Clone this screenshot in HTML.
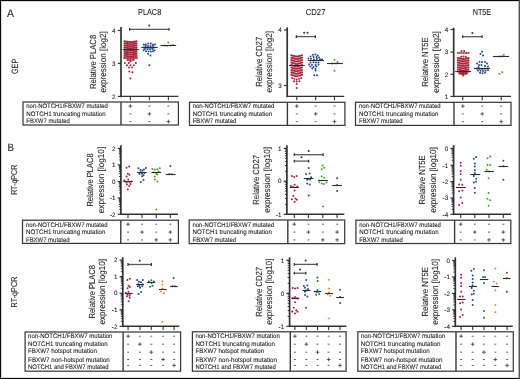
<!DOCTYPE html>
<html><head><meta charset="utf-8"><style>html,body{margin:0;padding:0;background:#fff;overflow:hidden}svg{display:block;will-change:transform}text{text-rendering:geometricPrecision}</style></head>
<body>
<svg width="520" height="379" viewBox="0 0 520 379" font-family="'Liberation Sans', sans-serif">
<rect x="0" y="0" width="520" height="379" fill="#fff"/>
<text x="7.00" y="17.00" font-size="11" fill="#231f20" text-anchor="start" stroke="#231f20" stroke-width="0.1" textLength="7.00" lengthAdjust="spacingAndGlyphs" >A</text>
<text x="17.60" y="66.40" font-size="9" fill="#231f20" text-anchor="middle" stroke="#231f20" stroke-width="0.1" textLength="15.20" lengthAdjust="spacingAndGlyphs" transform="rotate(-90 17.60 66.40)" >GEP</text>
<text x="138.10" y="14.70" font-size="8.7" fill="#231f20" text-anchor="start" stroke="#231f20" stroke-width="0.1" textLength="23.10" lengthAdjust="spacingAndGlyphs" >PLAC8</text>
<text x="305.80" y="14.70" font-size="8.7" fill="#231f20" text-anchor="start" stroke="#231f20" stroke-width="0.1" textLength="19.60" lengthAdjust="spacingAndGlyphs" >CD27</text>
<text x="472.70" y="14.70" font-size="8.7" fill="#231f20" text-anchor="start" stroke="#231f20" stroke-width="0.1" textLength="18.50" lengthAdjust="spacingAndGlyphs" >NT5E</text>
<line x1="121.00" y1="27.00" x2="121.00" y2="97.20" stroke="#333" stroke-width="1.7"/>
<line x1="120.20" y1="96.40" x2="178.30" y2="96.40" stroke="#333" stroke-width="1.4"/>
<line x1="117.80" y1="30.50" x2="121.00" y2="30.50" stroke="#333" stroke-width="1.2"/>
<text x="115.60" y="32.70" font-size="6.3" fill="#231f20" text-anchor="end" stroke="#231f20" stroke-width="0.1" >4</text>
<line x1="117.80" y1="63.40" x2="121.00" y2="63.40" stroke="#333" stroke-width="1.2"/>
<text x="115.60" y="65.60" font-size="6.3" fill="#231f20" text-anchor="end" stroke="#231f20" stroke-width="0.1" >3</text>
<line x1="117.80" y1="96.40" x2="121.00" y2="96.40" stroke="#333" stroke-width="1.2"/>
<text x="115.60" y="98.60" font-size="6.3" fill="#231f20" text-anchor="end" stroke="#231f20" stroke-width="0.1" >2</text>
<line x1="130.40" y1="96.40" x2="130.40" y2="100.20" stroke="#333" stroke-width="1.1"/>
<line x1="149.40" y1="96.40" x2="149.40" y2="100.20" stroke="#333" stroke-width="1.1"/>
<line x1="168.40" y1="96.40" x2="168.40" y2="100.20" stroke="#333" stroke-width="1.1"/>
<text x="95.60" y="61.90" font-size="8.8" fill="#231f20" text-anchor="middle" stroke="#231f20" stroke-width="0.1" textLength="54.10" lengthAdjust="spacingAndGlyphs" transform="rotate(-90 95.60 61.90)" >Relative PLAC8</text>
<text x="105.80" y="61.90" font-size="8.8" fill="#231f20" text-anchor="middle" stroke="#231f20" stroke-width="0.1" textLength="61.40" lengthAdjust="spacingAndGlyphs" transform="rotate(-90 105.80 61.90)" >expression [log2]</text>
<rect x="23.00" y="102.00" width="155.40" height="23.00" fill="none" stroke="#3a3a3a" stroke-width="1.25"/>
<line x1="121.00" y1="102.00" x2="121.00" y2="125.00" stroke="#3a3a3a" stroke-width="1.4"/>
<text x="26.30" y="108.00" font-size="6.55" fill="#231f20" text-anchor="start" stroke="#231f20" stroke-width="0.1" textLength="81.60" lengthAdjust="spacingAndGlyphs" >non-NOTCH1/FBXW7 mutated</text>
<text x="26.30" y="115.80" font-size="6.55" fill="#231f20" text-anchor="start" stroke="#231f20" stroke-width="0.1" textLength="79.40" lengthAdjust="spacingAndGlyphs" >NOTCH1 truncating mutation</text>
<text x="26.30" y="123.30" font-size="6.55" fill="#231f20" text-anchor="start" stroke="#231f20" stroke-width="0.1" textLength="43.60" lengthAdjust="spacingAndGlyphs" >FBXW7 mutated</text>
<line x1="128.50" y1="106.10" x2="132.30" y2="106.10" stroke="#222" stroke-width="0.7"/>
<line x1="130.40" y1="104.20" x2="130.40" y2="108.00" stroke="#222" stroke-width="0.7"/>
<line x1="148.40" y1="106.10" x2="150.40" y2="106.10" stroke="#444" stroke-width="0.85"/>
<line x1="167.40" y1="106.10" x2="169.40" y2="106.10" stroke="#444" stroke-width="0.85"/>
<line x1="129.40" y1="113.90" x2="131.40" y2="113.90" stroke="#444" stroke-width="0.85"/>
<line x1="147.50" y1="113.90" x2="151.30" y2="113.90" stroke="#222" stroke-width="0.7"/>
<line x1="149.40" y1="112.00" x2="149.40" y2="115.80" stroke="#222" stroke-width="0.7"/>
<line x1="167.40" y1="113.90" x2="169.40" y2="113.90" stroke="#444" stroke-width="0.85"/>
<line x1="129.40" y1="121.60" x2="131.40" y2="121.60" stroke="#444" stroke-width="0.85"/>
<line x1="148.40" y1="121.60" x2="150.40" y2="121.60" stroke="#444" stroke-width="0.85"/>
<line x1="166.50" y1="121.60" x2="170.30" y2="121.60" stroke="#222" stroke-width="0.7"/>
<line x1="168.40" y1="119.70" x2="168.40" y2="123.50" stroke="#222" stroke-width="0.7"/>
<line x1="129.60" y1="29.30" x2="169.00" y2="29.30" stroke="#5a5a5a" stroke-width="1.3"/>
<line x1="129.60" y1="27.90" x2="129.60" y2="30.70" stroke="#2a2a2a" stroke-width="1.2"/>
<line x1="169.00" y1="27.90" x2="169.00" y2="30.70" stroke="#2a2a2a" stroke-width="1.2"/>
<circle cx="149.30" cy="25.50" r="1.0" fill="#333"/>
<line x1="287.20" y1="27.40" x2="287.20" y2="97.20" stroke="#333" stroke-width="1.7"/>
<line x1="286.40" y1="96.40" x2="344.30" y2="96.40" stroke="#333" stroke-width="1.4"/>
<line x1="284.00" y1="30.00" x2="287.20" y2="30.00" stroke="#333" stroke-width="1.2"/>
<text x="281.80" y="32.20" font-size="6.3" fill="#231f20" text-anchor="end" stroke="#231f20" stroke-width="0.1" >4</text>
<line x1="284.00" y1="85.50" x2="287.20" y2="85.50" stroke="#333" stroke-width="1.2"/>
<text x="281.80" y="87.70" font-size="6.3" fill="#231f20" text-anchor="end" stroke="#231f20" stroke-width="0.1" >3</text>
<line x1="296.80" y1="96.40" x2="296.80" y2="100.20" stroke="#333" stroke-width="1.1"/>
<line x1="315.70" y1="96.40" x2="315.70" y2="100.20" stroke="#333" stroke-width="1.1"/>
<line x1="334.50" y1="96.40" x2="334.50" y2="100.20" stroke="#333" stroke-width="1.1"/>
<text x="261.90" y="61.80" font-size="8.8" fill="#231f20" text-anchor="middle" stroke="#231f20" stroke-width="0.1" textLength="50.00" lengthAdjust="spacingAndGlyphs" transform="rotate(-90 261.90 61.80)" >Relative CD27</text>
<text x="272.10" y="61.80" font-size="8.8" fill="#231f20" text-anchor="middle" stroke="#231f20" stroke-width="0.1" textLength="61.60" lengthAdjust="spacingAndGlyphs" transform="rotate(-90 272.10 61.80)" >expression [log2]</text>
<rect x="189.50" y="102.30" width="155.40" height="23.10" fill="none" stroke="#3a3a3a" stroke-width="1.25"/>
<line x1="287.40" y1="102.30" x2="287.40" y2="125.40" stroke="#3a3a3a" stroke-width="1.4"/>
<text x="192.70" y="108.00" font-size="6.55" fill="#231f20" text-anchor="start" stroke="#231f20" stroke-width="0.1" textLength="81.60" lengthAdjust="spacingAndGlyphs" >non-NOTCH1/FBXW7 mutated</text>
<text x="192.70" y="115.80" font-size="6.55" fill="#231f20" text-anchor="start" stroke="#231f20" stroke-width="0.1" textLength="79.40" lengthAdjust="spacingAndGlyphs" >NOTCH1 truncating mutation</text>
<text x="192.70" y="123.30" font-size="6.55" fill="#231f20" text-anchor="start" stroke="#231f20" stroke-width="0.1" textLength="43.60" lengthAdjust="spacingAndGlyphs" >FBXW7 mutated</text>
<line x1="294.90" y1="106.10" x2="298.70" y2="106.10" stroke="#222" stroke-width="0.7"/>
<line x1="296.80" y1="104.20" x2="296.80" y2="108.00" stroke="#222" stroke-width="0.7"/>
<line x1="314.70" y1="106.10" x2="316.70" y2="106.10" stroke="#444" stroke-width="0.85"/>
<line x1="333.50" y1="106.10" x2="335.50" y2="106.10" stroke="#444" stroke-width="0.85"/>
<line x1="295.80" y1="113.90" x2="297.80" y2="113.90" stroke="#444" stroke-width="0.85"/>
<line x1="313.80" y1="113.90" x2="317.60" y2="113.90" stroke="#222" stroke-width="0.7"/>
<line x1="315.70" y1="112.00" x2="315.70" y2="115.80" stroke="#222" stroke-width="0.7"/>
<line x1="333.50" y1="113.90" x2="335.50" y2="113.90" stroke="#444" stroke-width="0.85"/>
<line x1="295.80" y1="121.60" x2="297.80" y2="121.60" stroke="#444" stroke-width="0.85"/>
<line x1="314.70" y1="121.60" x2="316.70" y2="121.60" stroke="#444" stroke-width="0.85"/>
<line x1="332.60" y1="121.60" x2="336.40" y2="121.60" stroke="#222" stroke-width="0.7"/>
<line x1="334.50" y1="119.70" x2="334.50" y2="123.50" stroke="#222" stroke-width="0.7"/>
<line x1="296.30" y1="36.60" x2="315.40" y2="36.60" stroke="#5a5a5a" stroke-width="1.3"/>
<line x1="296.30" y1="35.20" x2="296.30" y2="38.00" stroke="#2a2a2a" stroke-width="1.2"/>
<line x1="315.40" y1="35.20" x2="315.40" y2="38.00" stroke="#2a2a2a" stroke-width="1.2"/>
<circle cx="304.20" cy="32.80" r="1.0" fill="#333"/>
<circle cx="307.50" cy="32.80" r="1.0" fill="#333"/>
<line x1="453.70" y1="27.80" x2="453.70" y2="97.20" stroke="#333" stroke-width="1.7"/>
<line x1="452.90" y1="96.40" x2="511.00" y2="96.40" stroke="#333" stroke-width="1.4"/>
<line x1="450.50" y1="29.50" x2="453.70" y2="29.50" stroke="#333" stroke-width="1.2"/>
<text x="448.30" y="31.70" font-size="6.3" fill="#231f20" text-anchor="end" stroke="#231f20" stroke-width="0.1" >4</text>
<line x1="450.50" y1="52.10" x2="453.70" y2="52.10" stroke="#333" stroke-width="1.2"/>
<text x="448.30" y="54.30" font-size="6.3" fill="#231f20" text-anchor="end" stroke="#231f20" stroke-width="0.1" >3</text>
<line x1="450.50" y1="74.30" x2="453.70" y2="74.30" stroke="#333" stroke-width="1.2"/>
<text x="448.30" y="76.50" font-size="6.3" fill="#231f20" text-anchor="end" stroke="#231f20" stroke-width="0.1" >2</text>
<line x1="450.50" y1="96.40" x2="453.70" y2="96.40" stroke="#333" stroke-width="1.2"/>
<text x="448.30" y="98.60" font-size="6.3" fill="#231f20" text-anchor="end" stroke="#231f20" stroke-width="0.1" >1</text>
<line x1="462.80" y1="96.40" x2="462.80" y2="100.20" stroke="#333" stroke-width="1.1"/>
<line x1="482.20" y1="96.40" x2="482.20" y2="100.20" stroke="#333" stroke-width="1.1"/>
<line x1="501.20" y1="96.40" x2="501.20" y2="100.20" stroke="#333" stroke-width="1.1"/>
<text x="427.90" y="62.00" font-size="8.8" fill="#231f20" text-anchor="middle" stroke="#231f20" stroke-width="0.1" textLength="49.40" lengthAdjust="spacingAndGlyphs" transform="rotate(-90 427.90 62.00)" >Relative NT5E</text>
<text x="438.50" y="62.00" font-size="8.8" fill="#231f20" text-anchor="middle" stroke="#231f20" stroke-width="0.1" textLength="61.70" lengthAdjust="spacingAndGlyphs" transform="rotate(-90 438.50 62.00)" >expression [log2]</text>
<rect x="355.50" y="102.30" width="155.50" height="23.10" fill="none" stroke="#3a3a3a" stroke-width="1.25"/>
<line x1="454.00" y1="102.30" x2="454.00" y2="125.40" stroke="#3a3a3a" stroke-width="1.4"/>
<text x="359.00" y="108.00" font-size="6.55" fill="#231f20" text-anchor="start" stroke="#231f20" stroke-width="0.1" textLength="81.60" lengthAdjust="spacingAndGlyphs" >non-NOTCH1/FBXW7 mutated</text>
<text x="359.00" y="115.80" font-size="6.55" fill="#231f20" text-anchor="start" stroke="#231f20" stroke-width="0.1" textLength="79.40" lengthAdjust="spacingAndGlyphs" >NOTCH1 truncating mutation</text>
<text x="359.00" y="123.30" font-size="6.55" fill="#231f20" text-anchor="start" stroke="#231f20" stroke-width="0.1" textLength="43.60" lengthAdjust="spacingAndGlyphs" >FBXW7 mutated</text>
<line x1="460.90" y1="106.10" x2="464.70" y2="106.10" stroke="#222" stroke-width="0.7"/>
<line x1="462.80" y1="104.20" x2="462.80" y2="108.00" stroke="#222" stroke-width="0.7"/>
<line x1="481.20" y1="106.10" x2="483.20" y2="106.10" stroke="#444" stroke-width="0.85"/>
<line x1="500.20" y1="106.10" x2="502.20" y2="106.10" stroke="#444" stroke-width="0.85"/>
<line x1="461.80" y1="113.90" x2="463.80" y2="113.90" stroke="#444" stroke-width="0.85"/>
<line x1="480.30" y1="113.90" x2="484.10" y2="113.90" stroke="#222" stroke-width="0.7"/>
<line x1="482.20" y1="112.00" x2="482.20" y2="115.80" stroke="#222" stroke-width="0.7"/>
<line x1="500.20" y1="113.90" x2="502.20" y2="113.90" stroke="#444" stroke-width="0.85"/>
<line x1="461.80" y1="121.60" x2="463.80" y2="121.60" stroke="#444" stroke-width="0.85"/>
<line x1="481.20" y1="121.60" x2="483.20" y2="121.60" stroke="#444" stroke-width="0.85"/>
<line x1="499.30" y1="121.60" x2="503.10" y2="121.60" stroke="#222" stroke-width="0.7"/>
<line x1="501.20" y1="119.70" x2="501.20" y2="123.50" stroke="#222" stroke-width="0.7"/>
<line x1="462.70" y1="36.70" x2="482.10" y2="36.70" stroke="#5a5a5a" stroke-width="1.3"/>
<line x1="462.70" y1="35.30" x2="462.70" y2="38.10" stroke="#2a2a2a" stroke-width="1.2"/>
<line x1="482.10" y1="35.30" x2="482.10" y2="38.10" stroke="#2a2a2a" stroke-width="1.2"/>
<circle cx="472.40" cy="32.90" r="1.0" fill="#333"/>
<text x="7.50" y="151.00" font-size="10.5" fill="#231f20" text-anchor="start" stroke="#231f20" stroke-width="0.1" textLength="6.50" lengthAdjust="spacingAndGlyphs" >B</text>
<text x="17.40" y="179.80" font-size="8.5" fill="#231f20" text-anchor="middle" stroke="#231f20" stroke-width="0.1" textLength="30.10" lengthAdjust="spacingAndGlyphs" transform="rotate(-90 17.40 179.80)" >RT-qPCR</text>
<text x="17.40" y="292.00" font-size="8.5" fill="#231f20" text-anchor="middle" stroke="#231f20" stroke-width="0.1" textLength="30.90" lengthAdjust="spacingAndGlyphs" transform="rotate(-90 17.40 292.00)" >RT-qPCR</text>
<line x1="120.90" y1="145.20" x2="120.90" y2="215.10" stroke="#333" stroke-width="1.7"/>
<line x1="120.10" y1="214.30" x2="178.00" y2="214.30" stroke="#333" stroke-width="1.4"/>
<line x1="117.70" y1="148.40" x2="120.90" y2="148.40" stroke="#333" stroke-width="1.2"/>
<text x="115.50" y="150.60" font-size="6.3" fill="#231f20" text-anchor="end" stroke="#231f20" stroke-width="0.1" >2</text>
<line x1="117.70" y1="164.90" x2="120.90" y2="164.90" stroke="#333" stroke-width="1.2"/>
<text x="115.50" y="167.10" font-size="6.3" fill="#231f20" text-anchor="end" stroke="#231f20" stroke-width="0.1" >1</text>
<line x1="117.70" y1="181.60" x2="120.90" y2="181.60" stroke="#333" stroke-width="1.2"/>
<text x="115.50" y="183.80" font-size="6.3" fill="#231f20" text-anchor="end" stroke="#231f20" stroke-width="0.1" >0</text>
<line x1="117.70" y1="198.00" x2="120.90" y2="198.00" stroke="#333" stroke-width="1.2"/>
<text x="115.50" y="200.20" font-size="6.3" fill="#231f20" text-anchor="end" stroke="#231f20" stroke-width="0.1" >-1</text>
<line x1="117.70" y1="214.30" x2="120.90" y2="214.30" stroke="#333" stroke-width="1.2"/>
<text x="115.50" y="216.50" font-size="6.3" fill="#231f20" text-anchor="end" stroke="#231f20" stroke-width="0.1" >-2</text>
<line x1="118.90" y1="159.93" x2="120.90" y2="159.93" stroke="#222" stroke-width="0.85"/>
<line x1="118.90" y1="157.03" x2="120.90" y2="157.03" stroke="#222" stroke-width="0.85"/>
<line x1="118.90" y1="154.97" x2="120.90" y2="154.97" stroke="#222" stroke-width="0.85"/>
<line x1="118.90" y1="153.37" x2="120.90" y2="153.37" stroke="#222" stroke-width="0.85"/>
<line x1="118.90" y1="152.06" x2="120.90" y2="152.06" stroke="#222" stroke-width="0.85"/>
<line x1="118.90" y1="150.96" x2="120.90" y2="150.96" stroke="#222" stroke-width="0.85"/>
<line x1="118.90" y1="150.00" x2="120.90" y2="150.00" stroke="#222" stroke-width="0.85"/>
<line x1="118.90" y1="149.15" x2="120.90" y2="149.15" stroke="#222" stroke-width="0.85"/>
<line x1="118.90" y1="176.57" x2="120.90" y2="176.57" stroke="#222" stroke-width="0.85"/>
<line x1="118.90" y1="173.63" x2="120.90" y2="173.63" stroke="#222" stroke-width="0.85"/>
<line x1="118.90" y1="171.55" x2="120.90" y2="171.55" stroke="#222" stroke-width="0.85"/>
<line x1="118.90" y1="169.93" x2="120.90" y2="169.93" stroke="#222" stroke-width="0.85"/>
<line x1="118.90" y1="168.60" x2="120.90" y2="168.60" stroke="#222" stroke-width="0.85"/>
<line x1="118.90" y1="167.49" x2="120.90" y2="167.49" stroke="#222" stroke-width="0.85"/>
<line x1="118.90" y1="166.52" x2="120.90" y2="166.52" stroke="#222" stroke-width="0.85"/>
<line x1="118.90" y1="165.66" x2="120.90" y2="165.66" stroke="#222" stroke-width="0.85"/>
<line x1="118.90" y1="193.06" x2="120.90" y2="193.06" stroke="#222" stroke-width="0.85"/>
<line x1="118.90" y1="190.18" x2="120.90" y2="190.18" stroke="#222" stroke-width="0.85"/>
<line x1="118.90" y1="188.13" x2="120.90" y2="188.13" stroke="#222" stroke-width="0.85"/>
<line x1="118.90" y1="186.54" x2="120.90" y2="186.54" stroke="#222" stroke-width="0.85"/>
<line x1="118.90" y1="185.24" x2="120.90" y2="185.24" stroke="#222" stroke-width="0.85"/>
<line x1="118.90" y1="184.14" x2="120.90" y2="184.14" stroke="#222" stroke-width="0.85"/>
<line x1="118.90" y1="183.19" x2="120.90" y2="183.19" stroke="#222" stroke-width="0.85"/>
<line x1="118.90" y1="182.35" x2="120.90" y2="182.35" stroke="#222" stroke-width="0.85"/>
<line x1="118.90" y1="209.39" x2="120.90" y2="209.39" stroke="#222" stroke-width="0.85"/>
<line x1="118.90" y1="206.52" x2="120.90" y2="206.52" stroke="#222" stroke-width="0.85"/>
<line x1="118.90" y1="204.49" x2="120.90" y2="204.49" stroke="#222" stroke-width="0.85"/>
<line x1="118.90" y1="202.91" x2="120.90" y2="202.91" stroke="#222" stroke-width="0.85"/>
<line x1="118.90" y1="201.62" x2="120.90" y2="201.62" stroke="#222" stroke-width="0.85"/>
<line x1="118.90" y1="200.52" x2="120.90" y2="200.52" stroke="#222" stroke-width="0.85"/>
<line x1="118.90" y1="199.58" x2="120.90" y2="199.58" stroke="#222" stroke-width="0.85"/>
<line x1="118.90" y1="198.75" x2="120.90" y2="198.75" stroke="#222" stroke-width="0.85"/>
<line x1="128.00" y1="214.30" x2="128.00" y2="218.10" stroke="#333" stroke-width="1.1"/>
<line x1="142.00" y1="214.30" x2="142.00" y2="218.10" stroke="#333" stroke-width="1.1"/>
<line x1="156.20" y1="214.30" x2="156.20" y2="218.10" stroke="#333" stroke-width="1.1"/>
<line x1="170.30" y1="214.30" x2="170.30" y2="218.10" stroke="#333" stroke-width="1.1"/>
<text x="93.10" y="180.00" font-size="8.8" fill="#231f20" text-anchor="middle" stroke="#231f20" stroke-width="0.1" textLength="53.20" lengthAdjust="spacingAndGlyphs" transform="rotate(-90 93.10 180.00)" >Relative PLAC8</text>
<text x="104.20" y="180.00" font-size="8.8" fill="#231f20" text-anchor="middle" stroke="#231f20" stroke-width="0.1" textLength="66.40" lengthAdjust="spacingAndGlyphs" transform="rotate(-90 104.20 180.00)" >expression [log10]</text>
<rect x="22.50" y="220.20" width="155.90" height="23.20" fill="none" stroke="#3a3a3a" stroke-width="1.25"/>
<line x1="120.80" y1="220.20" x2="120.80" y2="243.40" stroke="#3a3a3a" stroke-width="1.4"/>
<text x="26.00" y="226.50" font-size="6.55" fill="#231f20" text-anchor="start" stroke="#231f20" stroke-width="0.1" textLength="81.60" lengthAdjust="spacingAndGlyphs" >non-NOTCH1/FBXW7 mutated</text>
<text x="26.00" y="234.20" font-size="6.55" fill="#231f20" text-anchor="start" stroke="#231f20" stroke-width="0.1" textLength="79.40" lengthAdjust="spacingAndGlyphs" >NOTCH1 truncating mutation</text>
<text x="26.00" y="241.90" font-size="6.55" fill="#231f20" text-anchor="start" stroke="#231f20" stroke-width="0.1" textLength="43.60" lengthAdjust="spacingAndGlyphs" >FBXW7 mutated</text>
<line x1="126.10" y1="224.20" x2="129.90" y2="224.20" stroke="#222" stroke-width="0.7"/>
<line x1="128.00" y1="222.30" x2="128.00" y2="226.10" stroke="#222" stroke-width="0.7"/>
<line x1="141.00" y1="224.20" x2="143.00" y2="224.20" stroke="#444" stroke-width="0.85"/>
<line x1="155.20" y1="224.20" x2="157.20" y2="224.20" stroke="#444" stroke-width="0.85"/>
<line x1="169.30" y1="224.20" x2="171.30" y2="224.20" stroke="#444" stroke-width="0.85"/>
<line x1="127.00" y1="232.10" x2="129.00" y2="232.10" stroke="#444" stroke-width="0.85"/>
<line x1="140.10" y1="232.10" x2="143.90" y2="232.10" stroke="#222" stroke-width="0.7"/>
<line x1="142.00" y1="230.20" x2="142.00" y2="234.00" stroke="#222" stroke-width="0.7"/>
<line x1="155.20" y1="232.10" x2="157.20" y2="232.10" stroke="#444" stroke-width="0.85"/>
<line x1="168.40" y1="232.10" x2="172.20" y2="232.10" stroke="#222" stroke-width="0.7"/>
<line x1="170.30" y1="230.20" x2="170.30" y2="234.00" stroke="#222" stroke-width="0.7"/>
<line x1="127.00" y1="239.90" x2="129.00" y2="239.90" stroke="#444" stroke-width="0.85"/>
<line x1="141.00" y1="239.90" x2="143.00" y2="239.90" stroke="#444" stroke-width="0.85"/>
<line x1="154.30" y1="239.90" x2="158.10" y2="239.90" stroke="#222" stroke-width="0.7"/>
<line x1="156.20" y1="238.00" x2="156.20" y2="241.80" stroke="#222" stroke-width="0.7"/>
<line x1="168.40" y1="239.90" x2="172.20" y2="239.90" stroke="#222" stroke-width="0.7"/>
<line x1="170.30" y1="238.00" x2="170.30" y2="241.80" stroke="#222" stroke-width="0.7"/>
<line x1="286.90" y1="145.20" x2="286.90" y2="215.10" stroke="#333" stroke-width="1.7"/>
<line x1="286.10" y1="214.30" x2="344.30" y2="214.30" stroke="#333" stroke-width="1.4"/>
<line x1="283.70" y1="148.40" x2="286.90" y2="148.40" stroke="#333" stroke-width="1.2"/>
<text x="281.50" y="150.60" font-size="6.3" fill="#231f20" text-anchor="end" stroke="#231f20" stroke-width="0.1" >1</text>
<line x1="283.70" y1="181.20" x2="286.90" y2="181.20" stroke="#333" stroke-width="1.2"/>
<text x="281.50" y="183.40" font-size="6.3" fill="#231f20" text-anchor="end" stroke="#231f20" stroke-width="0.1" >0</text>
<line x1="283.70" y1="214.30" x2="286.90" y2="214.30" stroke="#333" stroke-width="1.2"/>
<text x="281.50" y="216.50" font-size="6.3" fill="#231f20" text-anchor="end" stroke="#231f20" stroke-width="0.1" >-1</text>
<line x1="284.90" y1="171.33" x2="286.90" y2="171.33" stroke="#222" stroke-width="0.85"/>
<line x1="284.90" y1="165.55" x2="286.90" y2="165.55" stroke="#222" stroke-width="0.85"/>
<line x1="284.90" y1="161.45" x2="286.90" y2="161.45" stroke="#222" stroke-width="0.85"/>
<line x1="284.90" y1="158.27" x2="286.90" y2="158.27" stroke="#222" stroke-width="0.85"/>
<line x1="284.90" y1="155.68" x2="286.90" y2="155.68" stroke="#222" stroke-width="0.85"/>
<line x1="284.90" y1="153.48" x2="286.90" y2="153.48" stroke="#222" stroke-width="0.85"/>
<line x1="284.90" y1="151.58" x2="286.90" y2="151.58" stroke="#222" stroke-width="0.85"/>
<line x1="284.90" y1="149.90" x2="286.90" y2="149.90" stroke="#222" stroke-width="0.85"/>
<line x1="284.90" y1="204.34" x2="286.90" y2="204.34" stroke="#222" stroke-width="0.85"/>
<line x1="284.90" y1="198.51" x2="286.90" y2="198.51" stroke="#222" stroke-width="0.85"/>
<line x1="284.90" y1="194.37" x2="286.90" y2="194.37" stroke="#222" stroke-width="0.85"/>
<line x1="284.90" y1="191.16" x2="286.90" y2="191.16" stroke="#222" stroke-width="0.85"/>
<line x1="284.90" y1="188.54" x2="286.90" y2="188.54" stroke="#222" stroke-width="0.85"/>
<line x1="284.90" y1="186.33" x2="286.90" y2="186.33" stroke="#222" stroke-width="0.85"/>
<line x1="284.90" y1="184.41" x2="286.90" y2="184.41" stroke="#222" stroke-width="0.85"/>
<line x1="284.90" y1="182.71" x2="286.90" y2="182.71" stroke="#222" stroke-width="0.85"/>
<line x1="294.30" y1="214.30" x2="294.30" y2="218.10" stroke="#333" stroke-width="1.1"/>
<line x1="308.40" y1="214.30" x2="308.40" y2="218.10" stroke="#333" stroke-width="1.1"/>
<line x1="322.80" y1="214.30" x2="322.80" y2="218.10" stroke="#333" stroke-width="1.1"/>
<line x1="337.10" y1="214.30" x2="337.10" y2="218.10" stroke="#333" stroke-width="1.1"/>
<text x="259.30" y="179.80" font-size="8.8" fill="#231f20" text-anchor="middle" stroke="#231f20" stroke-width="0.1" textLength="49.80" lengthAdjust="spacingAndGlyphs" transform="rotate(-90 259.30 179.80)" >Relative CD27</text>
<text x="269.80" y="179.80" font-size="8.8" fill="#231f20" text-anchor="middle" stroke="#231f20" stroke-width="0.1" textLength="65.70" lengthAdjust="spacingAndGlyphs" transform="rotate(-90 269.80 179.80)" >expression [log10]</text>
<rect x="189.20" y="220.00" width="155.50" height="23.60" fill="none" stroke="#3a3a3a" stroke-width="1.25"/>
<line x1="287.80" y1="220.00" x2="287.80" y2="243.60" stroke="#3a3a3a" stroke-width="1.4"/>
<text x="192.50" y="226.50" font-size="6.55" fill="#231f20" text-anchor="start" stroke="#231f20" stroke-width="0.1" textLength="81.60" lengthAdjust="spacingAndGlyphs" >non-NOTCH1/FBXW7 mutated</text>
<text x="192.50" y="234.20" font-size="6.55" fill="#231f20" text-anchor="start" stroke="#231f20" stroke-width="0.1" textLength="79.40" lengthAdjust="spacingAndGlyphs" >NOTCH1 truncating mutation</text>
<text x="192.50" y="241.90" font-size="6.55" fill="#231f20" text-anchor="start" stroke="#231f20" stroke-width="0.1" textLength="43.60" lengthAdjust="spacingAndGlyphs" >FBXW7 mutated</text>
<line x1="292.40" y1="224.20" x2="296.20" y2="224.20" stroke="#222" stroke-width="0.7"/>
<line x1="294.30" y1="222.30" x2="294.30" y2="226.10" stroke="#222" stroke-width="0.7"/>
<line x1="307.40" y1="224.20" x2="309.40" y2="224.20" stroke="#444" stroke-width="0.85"/>
<line x1="321.80" y1="224.20" x2="323.80" y2="224.20" stroke="#444" stroke-width="0.85"/>
<line x1="336.10" y1="224.20" x2="338.10" y2="224.20" stroke="#444" stroke-width="0.85"/>
<line x1="293.30" y1="232.10" x2="295.30" y2="232.10" stroke="#444" stroke-width="0.85"/>
<line x1="306.50" y1="232.10" x2="310.30" y2="232.10" stroke="#222" stroke-width="0.7"/>
<line x1="308.40" y1="230.20" x2="308.40" y2="234.00" stroke="#222" stroke-width="0.7"/>
<line x1="321.80" y1="232.10" x2="323.80" y2="232.10" stroke="#444" stroke-width="0.85"/>
<line x1="335.20" y1="232.10" x2="339.00" y2="232.10" stroke="#222" stroke-width="0.7"/>
<line x1="337.10" y1="230.20" x2="337.10" y2="234.00" stroke="#222" stroke-width="0.7"/>
<line x1="293.30" y1="239.90" x2="295.30" y2="239.90" stroke="#444" stroke-width="0.85"/>
<line x1="307.40" y1="239.90" x2="309.40" y2="239.90" stroke="#444" stroke-width="0.85"/>
<line x1="320.90" y1="239.90" x2="324.70" y2="239.90" stroke="#222" stroke-width="0.7"/>
<line x1="322.80" y1="238.00" x2="322.80" y2="241.80" stroke="#222" stroke-width="0.7"/>
<line x1="335.20" y1="239.90" x2="339.00" y2="239.90" stroke="#222" stroke-width="0.7"/>
<line x1="337.10" y1="238.00" x2="337.10" y2="241.80" stroke="#222" stroke-width="0.7"/>
<line x1="294.30" y1="154.70" x2="323.10" y2="154.70" stroke="#5a5a5a" stroke-width="1.3"/>
<line x1="294.30" y1="153.30" x2="294.30" y2="156.10" stroke="#2a2a2a" stroke-width="1.2"/>
<line x1="323.10" y1="153.30" x2="323.10" y2="156.10" stroke="#2a2a2a" stroke-width="1.2"/>
<circle cx="308.70" cy="150.90" r="1.0" fill="#333"/>
<line x1="294.30" y1="161.10" x2="308.60" y2="161.10" stroke="#5a5a5a" stroke-width="1.3"/>
<line x1="294.30" y1="159.70" x2="294.30" y2="162.50" stroke="#2a2a2a" stroke-width="1.2"/>
<line x1="308.60" y1="159.70" x2="308.60" y2="162.50" stroke="#2a2a2a" stroke-width="1.2"/>
<circle cx="301.45" cy="157.30" r="1.0" fill="#333"/>
<line x1="453.60" y1="145.20" x2="453.60" y2="215.10" stroke="#333" stroke-width="1.7"/>
<line x1="452.80" y1="214.30" x2="511.00" y2="214.30" stroke="#333" stroke-width="1.4"/>
<line x1="450.40" y1="148.40" x2="453.60" y2="148.40" stroke="#333" stroke-width="1.2"/>
<text x="448.20" y="150.60" font-size="6.3" fill="#231f20" text-anchor="end" stroke="#231f20" stroke-width="0.1" >0</text>
<line x1="450.40" y1="165.30" x2="453.60" y2="165.30" stroke="#333" stroke-width="1.2"/>
<text x="448.20" y="167.50" font-size="6.3" fill="#231f20" text-anchor="end" stroke="#231f20" stroke-width="0.1" >-1</text>
<line x1="450.40" y1="181.60" x2="453.60" y2="181.60" stroke="#333" stroke-width="1.2"/>
<text x="448.20" y="183.80" font-size="6.3" fill="#231f20" text-anchor="end" stroke="#231f20" stroke-width="0.1" >-2</text>
<line x1="450.40" y1="198.00" x2="453.60" y2="198.00" stroke="#333" stroke-width="1.2"/>
<text x="448.20" y="200.20" font-size="6.3" fill="#231f20" text-anchor="end" stroke="#231f20" stroke-width="0.1" >-3</text>
<line x1="450.40" y1="214.30" x2="453.60" y2="214.30" stroke="#333" stroke-width="1.2"/>
<text x="448.20" y="216.50" font-size="6.3" fill="#231f20" text-anchor="end" stroke="#231f20" stroke-width="0.1" >-4</text>
<line x1="451.60" y1="160.21" x2="453.60" y2="160.21" stroke="#222" stroke-width="0.85"/>
<line x1="451.60" y1="157.24" x2="453.60" y2="157.24" stroke="#222" stroke-width="0.85"/>
<line x1="451.60" y1="155.13" x2="453.60" y2="155.13" stroke="#222" stroke-width="0.85"/>
<line x1="451.60" y1="153.49" x2="453.60" y2="153.49" stroke="#222" stroke-width="0.85"/>
<line x1="451.60" y1="152.15" x2="453.60" y2="152.15" stroke="#222" stroke-width="0.85"/>
<line x1="451.60" y1="151.02" x2="453.60" y2="151.02" stroke="#222" stroke-width="0.85"/>
<line x1="451.60" y1="150.04" x2="453.60" y2="150.04" stroke="#222" stroke-width="0.85"/>
<line x1="451.60" y1="149.17" x2="453.60" y2="149.17" stroke="#222" stroke-width="0.85"/>
<line x1="451.60" y1="176.69" x2="453.60" y2="176.69" stroke="#222" stroke-width="0.85"/>
<line x1="451.60" y1="173.82" x2="453.60" y2="173.82" stroke="#222" stroke-width="0.85"/>
<line x1="451.60" y1="171.79" x2="453.60" y2="171.79" stroke="#222" stroke-width="0.85"/>
<line x1="451.60" y1="170.21" x2="453.60" y2="170.21" stroke="#222" stroke-width="0.85"/>
<line x1="451.60" y1="168.92" x2="453.60" y2="168.92" stroke="#222" stroke-width="0.85"/>
<line x1="451.60" y1="167.82" x2="453.60" y2="167.82" stroke="#222" stroke-width="0.85"/>
<line x1="451.60" y1="166.88" x2="453.60" y2="166.88" stroke="#222" stroke-width="0.85"/>
<line x1="451.60" y1="166.05" x2="453.60" y2="166.05" stroke="#222" stroke-width="0.85"/>
<line x1="451.60" y1="193.06" x2="453.60" y2="193.06" stroke="#222" stroke-width="0.85"/>
<line x1="451.60" y1="190.18" x2="453.60" y2="190.18" stroke="#222" stroke-width="0.85"/>
<line x1="451.60" y1="188.13" x2="453.60" y2="188.13" stroke="#222" stroke-width="0.85"/>
<line x1="451.60" y1="186.54" x2="453.60" y2="186.54" stroke="#222" stroke-width="0.85"/>
<line x1="451.60" y1="185.24" x2="453.60" y2="185.24" stroke="#222" stroke-width="0.85"/>
<line x1="451.60" y1="184.14" x2="453.60" y2="184.14" stroke="#222" stroke-width="0.85"/>
<line x1="451.60" y1="183.19" x2="453.60" y2="183.19" stroke="#222" stroke-width="0.85"/>
<line x1="451.60" y1="182.35" x2="453.60" y2="182.35" stroke="#222" stroke-width="0.85"/>
<line x1="451.60" y1="209.39" x2="453.60" y2="209.39" stroke="#222" stroke-width="0.85"/>
<line x1="451.60" y1="206.52" x2="453.60" y2="206.52" stroke="#222" stroke-width="0.85"/>
<line x1="451.60" y1="204.49" x2="453.60" y2="204.49" stroke="#222" stroke-width="0.85"/>
<line x1="451.60" y1="202.91" x2="453.60" y2="202.91" stroke="#222" stroke-width="0.85"/>
<line x1="451.60" y1="201.62" x2="453.60" y2="201.62" stroke="#222" stroke-width="0.85"/>
<line x1="451.60" y1="200.52" x2="453.60" y2="200.52" stroke="#222" stroke-width="0.85"/>
<line x1="451.60" y1="199.58" x2="453.60" y2="199.58" stroke="#222" stroke-width="0.85"/>
<line x1="451.60" y1="198.75" x2="453.60" y2="198.75" stroke="#222" stroke-width="0.85"/>
<line x1="460.70" y1="214.30" x2="460.70" y2="218.10" stroke="#333" stroke-width="1.1"/>
<line x1="474.80" y1="214.30" x2="474.80" y2="218.10" stroke="#333" stroke-width="1.1"/>
<line x1="489.00" y1="214.30" x2="489.00" y2="218.10" stroke="#333" stroke-width="1.1"/>
<line x1="503.30" y1="214.30" x2="503.30" y2="218.10" stroke="#333" stroke-width="1.1"/>
<text x="425.30" y="179.90" font-size="8.8" fill="#231f20" text-anchor="middle" stroke="#231f20" stroke-width="0.1" textLength="49.00" lengthAdjust="spacingAndGlyphs" transform="rotate(-90 425.30 179.90)" >Relative NT5E</text>
<text x="436.30" y="179.90" font-size="8.8" fill="#231f20" text-anchor="middle" stroke="#231f20" stroke-width="0.1" textLength="65.50" lengthAdjust="spacingAndGlyphs" transform="rotate(-90 436.30 179.90)" >expression [log10]</text>
<rect x="355.90" y="220.20" width="154.90" height="23.30" fill="none" stroke="#3a3a3a" stroke-width="1.25"/>
<line x1="454.60" y1="220.20" x2="454.60" y2="243.50" stroke="#3a3a3a" stroke-width="1.4"/>
<text x="359.20" y="226.50" font-size="6.55" fill="#231f20" text-anchor="start" stroke="#231f20" stroke-width="0.1" textLength="81.60" lengthAdjust="spacingAndGlyphs" >non-NOTCH1/FBXW7 mutated</text>
<text x="359.20" y="234.20" font-size="6.55" fill="#231f20" text-anchor="start" stroke="#231f20" stroke-width="0.1" textLength="79.40" lengthAdjust="spacingAndGlyphs" >NOTCH1 truncating mutation</text>
<text x="359.20" y="241.90" font-size="6.55" fill="#231f20" text-anchor="start" stroke="#231f20" stroke-width="0.1" textLength="43.60" lengthAdjust="spacingAndGlyphs" >FBXW7 mutated</text>
<line x1="458.80" y1="224.20" x2="462.60" y2="224.20" stroke="#222" stroke-width="0.7"/>
<line x1="460.70" y1="222.30" x2="460.70" y2="226.10" stroke="#222" stroke-width="0.7"/>
<line x1="473.80" y1="224.20" x2="475.80" y2="224.20" stroke="#444" stroke-width="0.85"/>
<line x1="488.00" y1="224.20" x2="490.00" y2="224.20" stroke="#444" stroke-width="0.85"/>
<line x1="502.30" y1="224.20" x2="504.30" y2="224.20" stroke="#444" stroke-width="0.85"/>
<line x1="459.70" y1="232.10" x2="461.70" y2="232.10" stroke="#444" stroke-width="0.85"/>
<line x1="472.90" y1="232.10" x2="476.70" y2="232.10" stroke="#222" stroke-width="0.7"/>
<line x1="474.80" y1="230.20" x2="474.80" y2="234.00" stroke="#222" stroke-width="0.7"/>
<line x1="488.00" y1="232.10" x2="490.00" y2="232.10" stroke="#444" stroke-width="0.85"/>
<line x1="501.40" y1="232.10" x2="505.20" y2="232.10" stroke="#222" stroke-width="0.7"/>
<line x1="503.30" y1="230.20" x2="503.30" y2="234.00" stroke="#222" stroke-width="0.7"/>
<line x1="459.70" y1="239.90" x2="461.70" y2="239.90" stroke="#444" stroke-width="0.85"/>
<line x1="473.80" y1="239.90" x2="475.80" y2="239.90" stroke="#444" stroke-width="0.85"/>
<line x1="487.10" y1="239.90" x2="490.90" y2="239.90" stroke="#222" stroke-width="0.7"/>
<line x1="489.00" y1="238.00" x2="489.00" y2="241.80" stroke="#222" stroke-width="0.7"/>
<line x1="501.40" y1="239.90" x2="505.20" y2="239.90" stroke="#222" stroke-width="0.7"/>
<line x1="503.30" y1="238.00" x2="503.30" y2="241.80" stroke="#222" stroke-width="0.7"/>
<line x1="122.80" y1="257.30" x2="122.80" y2="327.10" stroke="#333" stroke-width="1.7"/>
<line x1="122.00" y1="326.30" x2="179.30" y2="326.30" stroke="#333" stroke-width="1.4"/>
<line x1="119.60" y1="260.10" x2="122.80" y2="260.10" stroke="#333" stroke-width="1.2"/>
<text x="117.40" y="262.30" font-size="6.3" fill="#231f20" text-anchor="end" stroke="#231f20" stroke-width="0.1" >2</text>
<line x1="119.60" y1="276.65" x2="122.80" y2="276.65" stroke="#333" stroke-width="1.2"/>
<text x="117.40" y="278.85" font-size="6.3" fill="#231f20" text-anchor="end" stroke="#231f20" stroke-width="0.1" >1</text>
<line x1="119.60" y1="293.20" x2="122.80" y2="293.20" stroke="#333" stroke-width="1.2"/>
<text x="117.40" y="295.40" font-size="6.3" fill="#231f20" text-anchor="end" stroke="#231f20" stroke-width="0.1" >0</text>
<line x1="119.60" y1="309.75" x2="122.80" y2="309.75" stroke="#333" stroke-width="1.2"/>
<text x="117.40" y="311.95" font-size="6.3" fill="#231f20" text-anchor="end" stroke="#231f20" stroke-width="0.1" >-1</text>
<line x1="119.60" y1="326.30" x2="122.80" y2="326.30" stroke="#333" stroke-width="1.2"/>
<text x="117.40" y="328.50" font-size="6.3" fill="#231f20" text-anchor="end" stroke="#231f20" stroke-width="0.1" >-2</text>
<line x1="120.80" y1="271.67" x2="122.80" y2="271.67" stroke="#222" stroke-width="0.85"/>
<line x1="120.80" y1="268.75" x2="122.80" y2="268.75" stroke="#222" stroke-width="0.85"/>
<line x1="120.80" y1="266.69" x2="122.80" y2="266.69" stroke="#222" stroke-width="0.85"/>
<line x1="120.80" y1="265.08" x2="122.80" y2="265.08" stroke="#222" stroke-width="0.85"/>
<line x1="120.80" y1="263.77" x2="122.80" y2="263.77" stroke="#222" stroke-width="0.85"/>
<line x1="120.80" y1="262.66" x2="122.80" y2="262.66" stroke="#222" stroke-width="0.85"/>
<line x1="120.80" y1="261.70" x2="122.80" y2="261.70" stroke="#222" stroke-width="0.85"/>
<line x1="120.80" y1="260.86" x2="122.80" y2="260.86" stroke="#222" stroke-width="0.85"/>
<line x1="120.80" y1="288.22" x2="122.80" y2="288.22" stroke="#222" stroke-width="0.85"/>
<line x1="120.80" y1="285.30" x2="122.80" y2="285.30" stroke="#222" stroke-width="0.85"/>
<line x1="120.80" y1="283.24" x2="122.80" y2="283.24" stroke="#222" stroke-width="0.85"/>
<line x1="120.80" y1="281.63" x2="122.80" y2="281.63" stroke="#222" stroke-width="0.85"/>
<line x1="120.80" y1="280.32" x2="122.80" y2="280.32" stroke="#222" stroke-width="0.85"/>
<line x1="120.80" y1="279.21" x2="122.80" y2="279.21" stroke="#222" stroke-width="0.85"/>
<line x1="120.80" y1="278.25" x2="122.80" y2="278.25" stroke="#222" stroke-width="0.85"/>
<line x1="120.80" y1="277.41" x2="122.80" y2="277.41" stroke="#222" stroke-width="0.85"/>
<line x1="120.80" y1="304.77" x2="122.80" y2="304.77" stroke="#222" stroke-width="0.85"/>
<line x1="120.80" y1="301.85" x2="122.80" y2="301.85" stroke="#222" stroke-width="0.85"/>
<line x1="120.80" y1="299.79" x2="122.80" y2="299.79" stroke="#222" stroke-width="0.85"/>
<line x1="120.80" y1="298.18" x2="122.80" y2="298.18" stroke="#222" stroke-width="0.85"/>
<line x1="120.80" y1="296.87" x2="122.80" y2="296.87" stroke="#222" stroke-width="0.85"/>
<line x1="120.80" y1="295.76" x2="122.80" y2="295.76" stroke="#222" stroke-width="0.85"/>
<line x1="120.80" y1="294.80" x2="122.80" y2="294.80" stroke="#222" stroke-width="0.85"/>
<line x1="120.80" y1="293.96" x2="122.80" y2="293.96" stroke="#222" stroke-width="0.85"/>
<line x1="120.80" y1="321.32" x2="122.80" y2="321.32" stroke="#222" stroke-width="0.85"/>
<line x1="120.80" y1="318.40" x2="122.80" y2="318.40" stroke="#222" stroke-width="0.85"/>
<line x1="120.80" y1="316.34" x2="122.80" y2="316.34" stroke="#222" stroke-width="0.85"/>
<line x1="120.80" y1="314.73" x2="122.80" y2="314.73" stroke="#222" stroke-width="0.85"/>
<line x1="120.80" y1="313.42" x2="122.80" y2="313.42" stroke="#222" stroke-width="0.85"/>
<line x1="120.80" y1="312.31" x2="122.80" y2="312.31" stroke="#222" stroke-width="0.85"/>
<line x1="120.80" y1="311.35" x2="122.80" y2="311.35" stroke="#222" stroke-width="0.85"/>
<line x1="120.80" y1="310.51" x2="122.80" y2="310.51" stroke="#222" stroke-width="0.85"/>
<line x1="128.10" y1="326.30" x2="128.10" y2="330.10" stroke="#333" stroke-width="1.1"/>
<line x1="139.90" y1="326.30" x2="139.90" y2="330.10" stroke="#333" stroke-width="1.1"/>
<line x1="151.30" y1="326.30" x2="151.30" y2="330.10" stroke="#333" stroke-width="1.1"/>
<line x1="163.10" y1="326.30" x2="163.10" y2="330.10" stroke="#333" stroke-width="1.1"/>
<line x1="174.10" y1="326.30" x2="174.10" y2="330.10" stroke="#333" stroke-width="1.1"/>
<text x="95.00" y="291.75" font-size="8.8" fill="#231f20" text-anchor="middle" stroke="#231f20" stroke-width="0.1" textLength="53.70" lengthAdjust="spacingAndGlyphs" transform="rotate(-90 95.00 291.75)" >Relative PLAC8</text>
<text x="105.40" y="291.75" font-size="8.8" fill="#231f20" text-anchor="middle" stroke="#231f20" stroke-width="0.1" textLength="65.50" lengthAdjust="spacingAndGlyphs" transform="rotate(-90 105.40 291.75)" >expression [log10]</text>
<rect x="25.10" y="332.00" width="155.50" height="39.20" fill="none" stroke="#3a3a3a" stroke-width="1.25"/>
<line x1="123.10" y1="332.00" x2="123.10" y2="371.20" stroke="#3a3a3a" stroke-width="1.4"/>
<text x="28.10" y="337.70" font-size="6.55" fill="#231f20" text-anchor="start" stroke="#231f20" stroke-width="0.1" textLength="84.40" lengthAdjust="spacingAndGlyphs" >non-NOTCH1/FBXW7 mutation</text>
<text x="28.10" y="345.70" font-size="6.55" fill="#231f20" text-anchor="start" stroke="#231f20" stroke-width="0.1" textLength="79.60" lengthAdjust="spacingAndGlyphs" >NOTCH1 truncating mutation</text>
<text x="28.10" y="353.10" font-size="6.55" fill="#231f20" text-anchor="start" stroke="#231f20" stroke-width="0.1" textLength="68.80" lengthAdjust="spacingAndGlyphs" >FBXW7 hotspot mutation</text>
<text x="28.10" y="361.50" font-size="6.55" fill="#231f20" text-anchor="start" stroke="#231f20" stroke-width="0.1" textLength="81.60" lengthAdjust="spacingAndGlyphs" >FBXW7 non-hotspot mutation</text>
<text x="28.10" y="369.00" font-size="6.55" fill="#231f20" text-anchor="start" stroke="#231f20" stroke-width="0.1" textLength="80.40" lengthAdjust="spacingAndGlyphs" >NOTCH1 and FBXW7 mutated</text>
<line x1="126.20" y1="336.20" x2="130.00" y2="336.20" stroke="#222" stroke-width="0.7"/>
<line x1="128.10" y1="334.30" x2="128.10" y2="338.10" stroke="#222" stroke-width="0.7"/>
<line x1="138.90" y1="336.20" x2="140.90" y2="336.20" stroke="#444" stroke-width="0.85"/>
<line x1="150.30" y1="336.20" x2="152.30" y2="336.20" stroke="#444" stroke-width="0.85"/>
<line x1="162.10" y1="336.20" x2="164.10" y2="336.20" stroke="#444" stroke-width="0.85"/>
<line x1="173.10" y1="336.20" x2="175.10" y2="336.20" stroke="#444" stroke-width="0.85"/>
<line x1="127.10" y1="344.20" x2="129.10" y2="344.20" stroke="#444" stroke-width="0.85"/>
<line x1="138.00" y1="344.20" x2="141.80" y2="344.20" stroke="#222" stroke-width="0.7"/>
<line x1="139.90" y1="342.30" x2="139.90" y2="346.10" stroke="#222" stroke-width="0.7"/>
<line x1="150.30" y1="344.20" x2="152.30" y2="344.20" stroke="#444" stroke-width="0.85"/>
<line x1="162.10" y1="344.20" x2="164.10" y2="344.20" stroke="#444" stroke-width="0.85"/>
<line x1="173.10" y1="344.20" x2="175.10" y2="344.20" stroke="#444" stroke-width="0.85"/>
<line x1="127.10" y1="352.20" x2="129.10" y2="352.20" stroke="#444" stroke-width="0.85"/>
<line x1="138.90" y1="352.20" x2="140.90" y2="352.20" stroke="#444" stroke-width="0.85"/>
<line x1="149.40" y1="352.20" x2="153.20" y2="352.20" stroke="#222" stroke-width="0.7"/>
<line x1="151.30" y1="350.30" x2="151.30" y2="354.10" stroke="#222" stroke-width="0.7"/>
<line x1="162.10" y1="352.20" x2="164.10" y2="352.20" stroke="#444" stroke-width="0.85"/>
<line x1="173.10" y1="352.20" x2="175.10" y2="352.20" stroke="#444" stroke-width="0.85"/>
<line x1="127.10" y1="359.50" x2="129.10" y2="359.50" stroke="#444" stroke-width="0.85"/>
<line x1="138.90" y1="359.50" x2="140.90" y2="359.50" stroke="#444" stroke-width="0.85"/>
<line x1="150.30" y1="359.50" x2="152.30" y2="359.50" stroke="#444" stroke-width="0.85"/>
<line x1="161.20" y1="359.50" x2="165.00" y2="359.50" stroke="#222" stroke-width="0.7"/>
<line x1="163.10" y1="357.60" x2="163.10" y2="361.40" stroke="#222" stroke-width="0.7"/>
<line x1="173.10" y1="359.50" x2="175.10" y2="359.50" stroke="#444" stroke-width="0.85"/>
<line x1="127.10" y1="365.40" x2="129.10" y2="365.40" stroke="#444" stroke-width="0.85"/>
<line x1="138.90" y1="365.40" x2="140.90" y2="365.40" stroke="#444" stroke-width="0.85"/>
<line x1="150.30" y1="365.40" x2="152.30" y2="365.40" stroke="#444" stroke-width="0.85"/>
<line x1="162.10" y1="365.40" x2="164.10" y2="365.40" stroke="#444" stroke-width="0.85"/>
<line x1="172.20" y1="365.40" x2="176.00" y2="365.40" stroke="#222" stroke-width="0.7"/>
<line x1="174.10" y1="363.50" x2="174.10" y2="367.30" stroke="#222" stroke-width="0.7"/>
<line x1="128.00" y1="264.50" x2="151.40" y2="264.50" stroke="#5a5a5a" stroke-width="1.3"/>
<line x1="128.00" y1="263.10" x2="128.00" y2="265.90" stroke="#2a2a2a" stroke-width="1.2"/>
<line x1="151.40" y1="263.10" x2="151.40" y2="265.90" stroke="#2a2a2a" stroke-width="1.2"/>
<circle cx="139.70" cy="260.70" r="1.0" fill="#333"/>
<line x1="289.60" y1="257.30" x2="289.60" y2="327.10" stroke="#333" stroke-width="1.7"/>
<line x1="288.80" y1="326.30" x2="346.30" y2="326.30" stroke="#333" stroke-width="1.4"/>
<line x1="286.40" y1="260.30" x2="289.60" y2="260.30" stroke="#333" stroke-width="1.2"/>
<text x="284.20" y="262.50" font-size="6.3" fill="#231f20" text-anchor="end" stroke="#231f20" stroke-width="0.1" >1</text>
<line x1="286.40" y1="293.30" x2="289.60" y2="293.30" stroke="#333" stroke-width="1.2"/>
<text x="284.20" y="295.50" font-size="6.3" fill="#231f20" text-anchor="end" stroke="#231f20" stroke-width="0.1" >0</text>
<line x1="286.40" y1="326.30" x2="289.60" y2="326.30" stroke="#333" stroke-width="1.2"/>
<text x="284.20" y="328.50" font-size="6.3" fill="#231f20" text-anchor="end" stroke="#231f20" stroke-width="0.1" >-1</text>
<line x1="287.60" y1="283.37" x2="289.60" y2="283.37" stroke="#222" stroke-width="0.85"/>
<line x1="287.60" y1="277.55" x2="289.60" y2="277.55" stroke="#222" stroke-width="0.85"/>
<line x1="287.60" y1="273.43" x2="289.60" y2="273.43" stroke="#222" stroke-width="0.85"/>
<line x1="287.60" y1="270.23" x2="289.60" y2="270.23" stroke="#222" stroke-width="0.85"/>
<line x1="287.60" y1="267.62" x2="289.60" y2="267.62" stroke="#222" stroke-width="0.85"/>
<line x1="287.60" y1="265.41" x2="289.60" y2="265.41" stroke="#222" stroke-width="0.85"/>
<line x1="287.60" y1="263.50" x2="289.60" y2="263.50" stroke="#222" stroke-width="0.85"/>
<line x1="287.60" y1="261.81" x2="289.60" y2="261.81" stroke="#222" stroke-width="0.85"/>
<line x1="287.60" y1="316.37" x2="289.60" y2="316.37" stroke="#222" stroke-width="0.85"/>
<line x1="287.60" y1="310.55" x2="289.60" y2="310.55" stroke="#222" stroke-width="0.85"/>
<line x1="287.60" y1="306.43" x2="289.60" y2="306.43" stroke="#222" stroke-width="0.85"/>
<line x1="287.60" y1="303.23" x2="289.60" y2="303.23" stroke="#222" stroke-width="0.85"/>
<line x1="287.60" y1="300.62" x2="289.60" y2="300.62" stroke="#222" stroke-width="0.85"/>
<line x1="287.60" y1="298.41" x2="289.60" y2="298.41" stroke="#222" stroke-width="0.85"/>
<line x1="287.60" y1="296.50" x2="289.60" y2="296.50" stroke="#222" stroke-width="0.85"/>
<line x1="287.60" y1="294.81" x2="289.60" y2="294.81" stroke="#222" stroke-width="0.85"/>
<line x1="294.90" y1="326.30" x2="294.90" y2="330.10" stroke="#333" stroke-width="1.1"/>
<line x1="306.30" y1="326.30" x2="306.30" y2="330.10" stroke="#333" stroke-width="1.1"/>
<line x1="317.50" y1="326.30" x2="317.50" y2="330.10" stroke="#333" stroke-width="1.1"/>
<line x1="328.60" y1="326.30" x2="328.60" y2="330.10" stroke="#333" stroke-width="1.1"/>
<line x1="340.00" y1="326.30" x2="340.00" y2="330.10" stroke="#333" stroke-width="1.1"/>
<text x="261.70" y="291.80" font-size="8.8" fill="#231f20" text-anchor="middle" stroke="#231f20" stroke-width="0.1" textLength="50.00" lengthAdjust="spacingAndGlyphs" transform="rotate(-90 261.70 291.80)" >Relative CD27</text>
<text x="272.00" y="291.80" font-size="8.8" fill="#231f20" text-anchor="middle" stroke="#231f20" stroke-width="0.1" textLength="66.10" lengthAdjust="spacingAndGlyphs" transform="rotate(-90 272.00 291.80)" >expression [log10]</text>
<rect x="192.40" y="331.80" width="153.70" height="39.40" fill="none" stroke="#3a3a3a" stroke-width="1.25"/>
<line x1="290.30" y1="331.80" x2="290.30" y2="371.20" stroke="#3a3a3a" stroke-width="1.4"/>
<text x="195.40" y="337.70" font-size="6.55" fill="#231f20" text-anchor="start" stroke="#231f20" stroke-width="0.1" textLength="84.40" lengthAdjust="spacingAndGlyphs" >non-NOTCH1/FBXW7 mutation</text>
<text x="195.40" y="345.70" font-size="6.55" fill="#231f20" text-anchor="start" stroke="#231f20" stroke-width="0.1" textLength="79.60" lengthAdjust="spacingAndGlyphs" >NOTCH1 truncating mutation</text>
<text x="195.40" y="353.10" font-size="6.55" fill="#231f20" text-anchor="start" stroke="#231f20" stroke-width="0.1" textLength="68.80" lengthAdjust="spacingAndGlyphs" >FBXW7 hotspot mutation</text>
<text x="195.40" y="361.50" font-size="6.55" fill="#231f20" text-anchor="start" stroke="#231f20" stroke-width="0.1" textLength="81.60" lengthAdjust="spacingAndGlyphs" >FBXW7 non-hotspot mutation</text>
<text x="195.40" y="369.00" font-size="6.55" fill="#231f20" text-anchor="start" stroke="#231f20" stroke-width="0.1" textLength="80.40" lengthAdjust="spacingAndGlyphs" >NOTCH1 and FBXW7 mutated</text>
<line x1="293.00" y1="336.20" x2="296.80" y2="336.20" stroke="#222" stroke-width="0.7"/>
<line x1="294.90" y1="334.30" x2="294.90" y2="338.10" stroke="#222" stroke-width="0.7"/>
<line x1="305.30" y1="336.20" x2="307.30" y2="336.20" stroke="#444" stroke-width="0.85"/>
<line x1="316.50" y1="336.20" x2="318.50" y2="336.20" stroke="#444" stroke-width="0.85"/>
<line x1="327.60" y1="336.20" x2="329.60" y2="336.20" stroke="#444" stroke-width="0.85"/>
<line x1="339.00" y1="336.20" x2="341.00" y2="336.20" stroke="#444" stroke-width="0.85"/>
<line x1="293.90" y1="344.20" x2="295.90" y2="344.20" stroke="#444" stroke-width="0.85"/>
<line x1="304.40" y1="344.20" x2="308.20" y2="344.20" stroke="#222" stroke-width="0.7"/>
<line x1="306.30" y1="342.30" x2="306.30" y2="346.10" stroke="#222" stroke-width="0.7"/>
<line x1="316.50" y1="344.20" x2="318.50" y2="344.20" stroke="#444" stroke-width="0.85"/>
<line x1="327.60" y1="344.20" x2="329.60" y2="344.20" stroke="#444" stroke-width="0.85"/>
<line x1="339.00" y1="344.20" x2="341.00" y2="344.20" stroke="#444" stroke-width="0.85"/>
<line x1="293.90" y1="352.20" x2="295.90" y2="352.20" stroke="#444" stroke-width="0.85"/>
<line x1="305.30" y1="352.20" x2="307.30" y2="352.20" stroke="#444" stroke-width="0.85"/>
<line x1="315.60" y1="352.20" x2="319.40" y2="352.20" stroke="#222" stroke-width="0.7"/>
<line x1="317.50" y1="350.30" x2="317.50" y2="354.10" stroke="#222" stroke-width="0.7"/>
<line x1="327.60" y1="352.20" x2="329.60" y2="352.20" stroke="#444" stroke-width="0.85"/>
<line x1="339.00" y1="352.20" x2="341.00" y2="352.20" stroke="#444" stroke-width="0.85"/>
<line x1="293.90" y1="359.50" x2="295.90" y2="359.50" stroke="#444" stroke-width="0.85"/>
<line x1="305.30" y1="359.50" x2="307.30" y2="359.50" stroke="#444" stroke-width="0.85"/>
<line x1="316.50" y1="359.50" x2="318.50" y2="359.50" stroke="#444" stroke-width="0.85"/>
<line x1="326.70" y1="359.50" x2="330.50" y2="359.50" stroke="#222" stroke-width="0.7"/>
<line x1="328.60" y1="357.60" x2="328.60" y2="361.40" stroke="#222" stroke-width="0.7"/>
<line x1="339.00" y1="359.50" x2="341.00" y2="359.50" stroke="#444" stroke-width="0.85"/>
<line x1="293.90" y1="365.40" x2="295.90" y2="365.40" stroke="#444" stroke-width="0.85"/>
<line x1="305.30" y1="365.40" x2="307.30" y2="365.40" stroke="#444" stroke-width="0.85"/>
<line x1="316.50" y1="365.40" x2="318.50" y2="365.40" stroke="#444" stroke-width="0.85"/>
<line x1="327.60" y1="365.40" x2="329.60" y2="365.40" stroke="#444" stroke-width="0.85"/>
<line x1="338.10" y1="365.40" x2="341.90" y2="365.40" stroke="#222" stroke-width="0.7"/>
<line x1="340.00" y1="363.50" x2="340.00" y2="367.30" stroke="#222" stroke-width="0.7"/>
<line x1="294.30" y1="264.40" x2="317.10" y2="264.40" stroke="#5a5a5a" stroke-width="1.3"/>
<line x1="294.30" y1="263.00" x2="294.30" y2="265.80" stroke="#2a2a2a" stroke-width="1.2"/>
<line x1="317.10" y1="263.00" x2="317.10" y2="265.80" stroke="#2a2a2a" stroke-width="1.2"/>
<circle cx="305.70" cy="260.60" r="1.0" fill="#333"/>
<line x1="294.30" y1="273.20" x2="305.90" y2="273.20" stroke="#5a5a5a" stroke-width="1.3"/>
<line x1="294.30" y1="271.80" x2="294.30" y2="274.60" stroke="#2a2a2a" stroke-width="1.2"/>
<line x1="305.90" y1="271.80" x2="305.90" y2="274.60" stroke="#2a2a2a" stroke-width="1.2"/>
<circle cx="300.10" cy="269.40" r="1.0" fill="#333"/>
<line x1="455.30" y1="257.30" x2="455.30" y2="327.10" stroke="#333" stroke-width="1.7"/>
<line x1="454.50" y1="326.30" x2="512.80" y2="326.30" stroke="#333" stroke-width="1.4"/>
<line x1="452.10" y1="260.50" x2="455.30" y2="260.50" stroke="#333" stroke-width="1.2"/>
<text x="449.90" y="262.70" font-size="6.3" fill="#231f20" text-anchor="end" stroke="#231f20" stroke-width="0.1" >0</text>
<line x1="452.10" y1="276.95" x2="455.30" y2="276.95" stroke="#333" stroke-width="1.2"/>
<text x="449.90" y="279.15" font-size="6.3" fill="#231f20" text-anchor="end" stroke="#231f20" stroke-width="0.1" >-1</text>
<line x1="452.10" y1="293.40" x2="455.30" y2="293.40" stroke="#333" stroke-width="1.2"/>
<text x="449.90" y="295.60" font-size="6.3" fill="#231f20" text-anchor="end" stroke="#231f20" stroke-width="0.1" >-2</text>
<line x1="452.10" y1="309.85" x2="455.30" y2="309.85" stroke="#333" stroke-width="1.2"/>
<text x="449.90" y="312.05" font-size="6.3" fill="#231f20" text-anchor="end" stroke="#231f20" stroke-width="0.1" >-3</text>
<line x1="452.10" y1="326.30" x2="455.30" y2="326.30" stroke="#333" stroke-width="1.2"/>
<text x="449.90" y="328.50" font-size="6.3" fill="#231f20" text-anchor="end" stroke="#231f20" stroke-width="0.1" >-4</text>
<line x1="453.30" y1="272.00" x2="455.30" y2="272.00" stroke="#222" stroke-width="0.85"/>
<line x1="453.30" y1="269.10" x2="455.30" y2="269.10" stroke="#222" stroke-width="0.85"/>
<line x1="453.30" y1="267.05" x2="455.30" y2="267.05" stroke="#222" stroke-width="0.85"/>
<line x1="453.30" y1="265.45" x2="455.30" y2="265.45" stroke="#222" stroke-width="0.85"/>
<line x1="453.30" y1="264.15" x2="455.30" y2="264.15" stroke="#222" stroke-width="0.85"/>
<line x1="453.30" y1="263.05" x2="455.30" y2="263.05" stroke="#222" stroke-width="0.85"/>
<line x1="453.30" y1="262.09" x2="455.30" y2="262.09" stroke="#222" stroke-width="0.85"/>
<line x1="453.30" y1="261.25" x2="455.30" y2="261.25" stroke="#222" stroke-width="0.85"/>
<line x1="453.30" y1="288.45" x2="455.30" y2="288.45" stroke="#222" stroke-width="0.85"/>
<line x1="453.30" y1="285.55" x2="455.30" y2="285.55" stroke="#222" stroke-width="0.85"/>
<line x1="453.30" y1="283.50" x2="455.30" y2="283.50" stroke="#222" stroke-width="0.85"/>
<line x1="453.30" y1="281.90" x2="455.30" y2="281.90" stroke="#222" stroke-width="0.85"/>
<line x1="453.30" y1="280.60" x2="455.30" y2="280.60" stroke="#222" stroke-width="0.85"/>
<line x1="453.30" y1="279.50" x2="455.30" y2="279.50" stroke="#222" stroke-width="0.85"/>
<line x1="453.30" y1="278.54" x2="455.30" y2="278.54" stroke="#222" stroke-width="0.85"/>
<line x1="453.30" y1="277.70" x2="455.30" y2="277.70" stroke="#222" stroke-width="0.85"/>
<line x1="453.30" y1="304.90" x2="455.30" y2="304.90" stroke="#222" stroke-width="0.85"/>
<line x1="453.30" y1="302.00" x2="455.30" y2="302.00" stroke="#222" stroke-width="0.85"/>
<line x1="453.30" y1="299.95" x2="455.30" y2="299.95" stroke="#222" stroke-width="0.85"/>
<line x1="453.30" y1="298.35" x2="455.30" y2="298.35" stroke="#222" stroke-width="0.85"/>
<line x1="453.30" y1="297.05" x2="455.30" y2="297.05" stroke="#222" stroke-width="0.85"/>
<line x1="453.30" y1="295.95" x2="455.30" y2="295.95" stroke="#222" stroke-width="0.85"/>
<line x1="453.30" y1="294.99" x2="455.30" y2="294.99" stroke="#222" stroke-width="0.85"/>
<line x1="453.30" y1="294.15" x2="455.30" y2="294.15" stroke="#222" stroke-width="0.85"/>
<line x1="453.30" y1="321.35" x2="455.30" y2="321.35" stroke="#222" stroke-width="0.85"/>
<line x1="453.30" y1="318.45" x2="455.30" y2="318.45" stroke="#222" stroke-width="0.85"/>
<line x1="453.30" y1="316.40" x2="455.30" y2="316.40" stroke="#222" stroke-width="0.85"/>
<line x1="453.30" y1="314.80" x2="455.30" y2="314.80" stroke="#222" stroke-width="0.85"/>
<line x1="453.30" y1="313.50" x2="455.30" y2="313.50" stroke="#222" stroke-width="0.85"/>
<line x1="453.30" y1="312.40" x2="455.30" y2="312.40" stroke="#222" stroke-width="0.85"/>
<line x1="453.30" y1="311.44" x2="455.30" y2="311.44" stroke="#222" stroke-width="0.85"/>
<line x1="453.30" y1="310.60" x2="455.30" y2="310.60" stroke="#222" stroke-width="0.85"/>
<line x1="461.10" y1="326.30" x2="461.10" y2="330.10" stroke="#333" stroke-width="1.1"/>
<line x1="472.70" y1="326.30" x2="472.70" y2="330.10" stroke="#333" stroke-width="1.1"/>
<line x1="483.90" y1="326.30" x2="483.90" y2="330.10" stroke="#333" stroke-width="1.1"/>
<line x1="495.30" y1="326.30" x2="495.30" y2="330.10" stroke="#333" stroke-width="1.1"/>
<line x1="507.10" y1="326.30" x2="507.10" y2="330.10" stroke="#333" stroke-width="1.1"/>
<text x="428.00" y="291.85" font-size="8.8" fill="#231f20" text-anchor="middle" stroke="#231f20" stroke-width="0.1" textLength="49.30" lengthAdjust="spacingAndGlyphs" transform="rotate(-90 428.00 291.85)" >Relative NT5E</text>
<text x="438.40" y="291.85" font-size="8.8" fill="#231f20" text-anchor="middle" stroke="#231f20" stroke-width="0.1" textLength="65.90" lengthAdjust="spacingAndGlyphs" transform="rotate(-90 438.40 291.85)" >expression [log10]</text>
<rect x="357.80" y="331.80" width="155.50" height="39.40" fill="none" stroke="#3a3a3a" stroke-width="1.25"/>
<line x1="456.00" y1="331.80" x2="456.00" y2="371.20" stroke="#3a3a3a" stroke-width="1.4"/>
<text x="360.80" y="337.70" font-size="6.55" fill="#231f20" text-anchor="start" stroke="#231f20" stroke-width="0.1" textLength="84.40" lengthAdjust="spacingAndGlyphs" >non-NOTCH1/FBXW7 mutation</text>
<text x="360.80" y="345.70" font-size="6.55" fill="#231f20" text-anchor="start" stroke="#231f20" stroke-width="0.1" textLength="79.60" lengthAdjust="spacingAndGlyphs" >NOTCH1 truncating mutation</text>
<text x="360.80" y="353.10" font-size="6.55" fill="#231f20" text-anchor="start" stroke="#231f20" stroke-width="0.1" textLength="68.80" lengthAdjust="spacingAndGlyphs" >FBXW7 hotspot mutation</text>
<text x="360.80" y="361.50" font-size="6.55" fill="#231f20" text-anchor="start" stroke="#231f20" stroke-width="0.1" textLength="81.60" lengthAdjust="spacingAndGlyphs" >FBXW7 non-hotspot mutation</text>
<text x="360.80" y="369.00" font-size="6.55" fill="#231f20" text-anchor="start" stroke="#231f20" stroke-width="0.1" textLength="80.40" lengthAdjust="spacingAndGlyphs" >NOTCH1 and FBXW7 mutated</text>
<line x1="459.20" y1="336.20" x2="463.00" y2="336.20" stroke="#222" stroke-width="0.7"/>
<line x1="461.10" y1="334.30" x2="461.10" y2="338.10" stroke="#222" stroke-width="0.7"/>
<line x1="471.70" y1="336.20" x2="473.70" y2="336.20" stroke="#444" stroke-width="0.85"/>
<line x1="482.90" y1="336.20" x2="484.90" y2="336.20" stroke="#444" stroke-width="0.85"/>
<line x1="494.30" y1="336.20" x2="496.30" y2="336.20" stroke="#444" stroke-width="0.85"/>
<line x1="506.10" y1="336.20" x2="508.10" y2="336.20" stroke="#444" stroke-width="0.85"/>
<line x1="460.10" y1="344.20" x2="462.10" y2="344.20" stroke="#444" stroke-width="0.85"/>
<line x1="470.80" y1="344.20" x2="474.60" y2="344.20" stroke="#222" stroke-width="0.7"/>
<line x1="472.70" y1="342.30" x2="472.70" y2="346.10" stroke="#222" stroke-width="0.7"/>
<line x1="482.90" y1="344.20" x2="484.90" y2="344.20" stroke="#444" stroke-width="0.85"/>
<line x1="494.30" y1="344.20" x2="496.30" y2="344.20" stroke="#444" stroke-width="0.85"/>
<line x1="506.10" y1="344.20" x2="508.10" y2="344.20" stroke="#444" stroke-width="0.85"/>
<line x1="460.10" y1="352.20" x2="462.10" y2="352.20" stroke="#444" stroke-width="0.85"/>
<line x1="471.70" y1="352.20" x2="473.70" y2="352.20" stroke="#444" stroke-width="0.85"/>
<line x1="482.00" y1="352.20" x2="485.80" y2="352.20" stroke="#222" stroke-width="0.7"/>
<line x1="483.90" y1="350.30" x2="483.90" y2="354.10" stroke="#222" stroke-width="0.7"/>
<line x1="494.30" y1="352.20" x2="496.30" y2="352.20" stroke="#444" stroke-width="0.85"/>
<line x1="506.10" y1="352.20" x2="508.10" y2="352.20" stroke="#444" stroke-width="0.85"/>
<line x1="460.10" y1="359.50" x2="462.10" y2="359.50" stroke="#444" stroke-width="0.85"/>
<line x1="471.70" y1="359.50" x2="473.70" y2="359.50" stroke="#444" stroke-width="0.85"/>
<line x1="482.90" y1="359.50" x2="484.90" y2="359.50" stroke="#444" stroke-width="0.85"/>
<line x1="493.40" y1="359.50" x2="497.20" y2="359.50" stroke="#222" stroke-width="0.7"/>
<line x1="495.30" y1="357.60" x2="495.30" y2="361.40" stroke="#222" stroke-width="0.7"/>
<line x1="506.10" y1="359.50" x2="508.10" y2="359.50" stroke="#444" stroke-width="0.85"/>
<line x1="460.10" y1="365.40" x2="462.10" y2="365.40" stroke="#444" stroke-width="0.85"/>
<line x1="471.70" y1="365.40" x2="473.70" y2="365.40" stroke="#444" stroke-width="0.85"/>
<line x1="482.90" y1="365.40" x2="484.90" y2="365.40" stroke="#444" stroke-width="0.85"/>
<line x1="494.30" y1="365.40" x2="496.30" y2="365.40" stroke="#444" stroke-width="0.85"/>
<line x1="505.20" y1="365.40" x2="509.00" y2="365.40" stroke="#222" stroke-width="0.7"/>
<line x1="507.10" y1="363.50" x2="507.10" y2="367.30" stroke="#222" stroke-width="0.7"/>
<circle cx="124.50" cy="41.45" r="1.08" fill="#a82238"/>
<circle cx="126.00" cy="41.63" r="1.08" fill="#a82238"/>
<circle cx="127.50" cy="41.81" r="1.08" fill="#a82238"/>
<circle cx="129.00" cy="41.99" r="1.08" fill="#a82238"/>
<circle cx="130.50" cy="42.17" r="1.08" fill="#a82238"/>
<circle cx="132.00" cy="41.99" r="1.08" fill="#a82238"/>
<circle cx="133.50" cy="41.81" r="1.08" fill="#a82238"/>
<circle cx="135.00" cy="41.63" r="1.08" fill="#a82238"/>
<circle cx="136.50" cy="41.45" r="1.08" fill="#a82238"/>
<circle cx="124.50" cy="43.50" r="1.08" fill="#a82238"/>
<circle cx="126.00" cy="43.68" r="1.08" fill="#a82238"/>
<circle cx="127.50" cy="43.86" r="1.08" fill="#a82238"/>
<circle cx="129.00" cy="44.04" r="1.08" fill="#a82238"/>
<circle cx="130.50" cy="44.22" r="1.08" fill="#a82238"/>
<circle cx="132.00" cy="44.04" r="1.08" fill="#a82238"/>
<circle cx="133.50" cy="43.86" r="1.08" fill="#a82238"/>
<circle cx="135.00" cy="43.68" r="1.08" fill="#a82238"/>
<circle cx="136.50" cy="43.50" r="1.08" fill="#a82238"/>
<circle cx="124.50" cy="45.55" r="1.08" fill="#a82238"/>
<circle cx="126.00" cy="45.73" r="1.08" fill="#a82238"/>
<circle cx="127.50" cy="45.91" r="1.08" fill="#a82238"/>
<circle cx="129.00" cy="46.09" r="1.08" fill="#a82238"/>
<circle cx="130.50" cy="46.27" r="1.08" fill="#a82238"/>
<circle cx="132.00" cy="46.09" r="1.08" fill="#a82238"/>
<circle cx="133.50" cy="45.91" r="1.08" fill="#a82238"/>
<circle cx="135.00" cy="45.73" r="1.08" fill="#a82238"/>
<circle cx="136.50" cy="45.55" r="1.08" fill="#a82238"/>
<circle cx="124.50" cy="47.60" r="1.08" fill="#a82238"/>
<circle cx="126.00" cy="47.78" r="1.08" fill="#a82238"/>
<circle cx="127.50" cy="47.96" r="1.08" fill="#a82238"/>
<circle cx="129.00" cy="48.14" r="1.08" fill="#a82238"/>
<circle cx="130.50" cy="48.32" r="1.08" fill="#a82238"/>
<circle cx="132.00" cy="48.14" r="1.08" fill="#a82238"/>
<circle cx="133.50" cy="47.96" r="1.08" fill="#a82238"/>
<circle cx="135.00" cy="47.78" r="1.08" fill="#a82238"/>
<circle cx="136.50" cy="47.60" r="1.08" fill="#a82238"/>
<circle cx="124.50" cy="49.65" r="1.08" fill="#a82238"/>
<circle cx="126.00" cy="49.83" r="1.08" fill="#a82238"/>
<circle cx="127.50" cy="50.01" r="1.08" fill="#a82238"/>
<circle cx="129.00" cy="50.19" r="1.08" fill="#a82238"/>
<circle cx="130.50" cy="50.37" r="1.08" fill="#a82238"/>
<circle cx="132.00" cy="50.19" r="1.08" fill="#a82238"/>
<circle cx="133.50" cy="50.01" r="1.08" fill="#a82238"/>
<circle cx="135.00" cy="49.83" r="1.08" fill="#a82238"/>
<circle cx="136.50" cy="49.65" r="1.08" fill="#a82238"/>
<circle cx="124.50" cy="51.70" r="1.08" fill="#a82238"/>
<circle cx="126.00" cy="51.88" r="1.08" fill="#a82238"/>
<circle cx="127.50" cy="52.06" r="1.08" fill="#a82238"/>
<circle cx="129.00" cy="52.24" r="1.08" fill="#a82238"/>
<circle cx="130.50" cy="52.42" r="1.08" fill="#a82238"/>
<circle cx="132.00" cy="52.24" r="1.08" fill="#a82238"/>
<circle cx="133.50" cy="52.06" r="1.08" fill="#a82238"/>
<circle cx="135.00" cy="51.88" r="1.08" fill="#a82238"/>
<circle cx="136.50" cy="51.70" r="1.08" fill="#a82238"/>
<circle cx="124.50" cy="53.75" r="1.08" fill="#a82238"/>
<circle cx="126.00" cy="53.93" r="1.08" fill="#a82238"/>
<circle cx="127.50" cy="54.11" r="1.08" fill="#a82238"/>
<circle cx="129.00" cy="54.29" r="1.08" fill="#a82238"/>
<circle cx="130.50" cy="54.47" r="1.08" fill="#a82238"/>
<circle cx="132.00" cy="54.29" r="1.08" fill="#a82238"/>
<circle cx="133.50" cy="54.11" r="1.08" fill="#a82238"/>
<circle cx="135.00" cy="53.93" r="1.08" fill="#a82238"/>
<circle cx="136.50" cy="53.75" r="1.08" fill="#a82238"/>
<circle cx="124.50" cy="55.80" r="1.08" fill="#a82238"/>
<circle cx="126.00" cy="55.98" r="1.08" fill="#a82238"/>
<circle cx="127.50" cy="56.16" r="1.08" fill="#a82238"/>
<circle cx="129.00" cy="56.34" r="1.08" fill="#a82238"/>
<circle cx="130.50" cy="56.52" r="1.08" fill="#a82238"/>
<circle cx="132.00" cy="56.34" r="1.08" fill="#a82238"/>
<circle cx="133.50" cy="56.16" r="1.08" fill="#a82238"/>
<circle cx="135.00" cy="55.98" r="1.08" fill="#a82238"/>
<circle cx="136.50" cy="55.80" r="1.08" fill="#a82238"/>
<circle cx="124.10" cy="57.90" r="1.0" fill="#a82238"/>
<circle cx="125.70" cy="57.90" r="1.0" fill="#a82238"/>
<circle cx="127.30" cy="57.90" r="1.0" fill="#a82238"/>
<circle cx="128.90" cy="57.90" r="1.0" fill="#a82238"/>
<circle cx="130.50" cy="57.90" r="1.0" fill="#a82238"/>
<circle cx="132.10" cy="57.90" r="1.0" fill="#a82238"/>
<circle cx="133.70" cy="57.90" r="1.0" fill="#a82238"/>
<circle cx="135.30" cy="57.90" r="1.0" fill="#a82238"/>
<circle cx="136.90" cy="57.90" r="1.0" fill="#a82238"/>
<circle cx="127.30" cy="59.90" r="0.95" fill="#a82238"/>
<circle cx="128.90" cy="59.90" r="0.95" fill="#a82238"/>
<circle cx="130.50" cy="59.90" r="0.95" fill="#a82238"/>
<circle cx="132.10" cy="59.90" r="0.95" fill="#a82238"/>
<circle cx="133.70" cy="59.90" r="0.95" fill="#a82238"/>
<circle cx="124.90" cy="62.90" r="1.0" fill="#a82238"/>
<circle cx="128.90" cy="62.90" r="1.0" fill="#a82238"/>
<circle cx="135.90" cy="62.90" r="1.0" fill="#a82238"/>
<circle cx="127.00" cy="65.20" r="1.0" fill="#a82238"/>
<circle cx="130.50" cy="65.20" r="1.0" fill="#a82238"/>
<circle cx="133.90" cy="65.20" r="1.0" fill="#a82238"/>
<circle cx="129.00" cy="67.60" r="1.0" fill="#a82238"/>
<circle cx="132.00" cy="67.60" r="1.0" fill="#a82238"/>
<circle cx="129.30" cy="71.60" r="1.0" fill="#a82238"/>
<circle cx="132.40" cy="72.20" r="1.0" fill="#a82238"/>
<circle cx="130.40" cy="78.60" r="1.0" fill="#a82238"/>
<circle cx="130.50" cy="61.30" r="1.0" fill="#a82238"/>
<circle cx="148.20" cy="43.40" r="1.0" fill="#254a87"/>
<circle cx="150.80" cy="43.40" r="1.0" fill="#254a87"/>
<circle cx="143.80" cy="44.40" r="1.0" fill="#254a87"/>
<circle cx="145.80" cy="44.60" r="1.0" fill="#254a87"/>
<circle cx="152.80" cy="44.60" r="1.0" fill="#254a87"/>
<circle cx="155.00" cy="44.40" r="1.0" fill="#254a87"/>
<circle cx="145.50" cy="45.90" r="1.0" fill="#254a87"/>
<circle cx="148.00" cy="46.00" r="1.0" fill="#254a87"/>
<circle cx="150.50" cy="46.00" r="1.0" fill="#254a87"/>
<circle cx="153.00" cy="45.90" r="1.0" fill="#254a87"/>
<circle cx="144.00" cy="47.60" r="1.0" fill="#254a87"/>
<circle cx="146.50" cy="47.60" r="1.0" fill="#254a87"/>
<circle cx="149.00" cy="47.80" r="1.0" fill="#254a87"/>
<circle cx="151.50" cy="47.80" r="1.0" fill="#254a87"/>
<circle cx="154.00" cy="47.60" r="1.0" fill="#254a87"/>
<circle cx="145.00" cy="49.00" r="1.0" fill="#254a87"/>
<circle cx="147.50" cy="49.20" r="1.0" fill="#254a87"/>
<circle cx="150.00" cy="49.20" r="1.0" fill="#254a87"/>
<circle cx="152.50" cy="49.00" r="1.0" fill="#254a87"/>
<circle cx="143.60" cy="50.30" r="1.0" fill="#254a87"/>
<circle cx="154.50" cy="50.30" r="1.0" fill="#254a87"/>
<circle cx="146.00" cy="51.30" r="1.0" fill="#254a87"/>
<circle cx="148.50" cy="51.50" r="1.0" fill="#254a87"/>
<circle cx="150.80" cy="51.50" r="1.0" fill="#254a87"/>
<circle cx="153.00" cy="51.30" r="1.0" fill="#254a87"/>
<circle cx="148.00" cy="54.10" r="1.0" fill="#254a87"/>
<circle cx="150.40" cy="55.40" r="1.0" fill="#254a87"/>
<circle cx="149.40" cy="65.20" r="1.0" fill="#254a87"/>
<circle cx="168.30" cy="42.60" r="1.0" fill="#4f9e30"/>
<circle cx="164.50" cy="45.50" r="1.0" fill="#4f9e30"/>
<circle cx="167.00" cy="45.80" r="1.0" fill="#4f9e30"/>
<circle cx="170.50" cy="45.50" r="1.0" fill="#4f9e30"/>
<circle cx="173.00" cy="45.00" r="1.0" fill="#4f9e30"/>
<line x1="122.60" y1="49.50" x2="138.80" y2="49.50" stroke="#2e2e2e" stroke-width="1.1"/>
<line x1="141.30" y1="47.50" x2="157.70" y2="47.50" stroke="#2e2e2e" stroke-width="1.1"/>
<line x1="160.40" y1="45.50" x2="176.20" y2="45.50" stroke="#2e2e2e" stroke-width="1.1"/>
<circle cx="291.45" cy="55.27" r="1.08" fill="#a82238"/>
<circle cx="292.95" cy="55.72" r="1.08" fill="#a82238"/>
<circle cx="294.45" cy="56.17" r="1.08" fill="#a82238"/>
<circle cx="295.95" cy="56.62" r="1.08" fill="#a82238"/>
<circle cx="297.45" cy="56.62" r="1.08" fill="#a82238"/>
<circle cx="298.95" cy="56.17" r="1.08" fill="#a82238"/>
<circle cx="300.45" cy="55.72" r="1.08" fill="#a82238"/>
<circle cx="301.95" cy="55.27" r="1.08" fill="#a82238"/>
<circle cx="291.45" cy="57.72" r="1.08" fill="#a82238"/>
<circle cx="292.95" cy="58.17" r="1.08" fill="#a82238"/>
<circle cx="294.45" cy="58.62" r="1.08" fill="#a82238"/>
<circle cx="295.95" cy="59.07" r="1.08" fill="#a82238"/>
<circle cx="297.45" cy="59.07" r="1.08" fill="#a82238"/>
<circle cx="298.95" cy="58.62" r="1.08" fill="#a82238"/>
<circle cx="300.45" cy="58.17" r="1.08" fill="#a82238"/>
<circle cx="301.95" cy="57.72" r="1.08" fill="#a82238"/>
<circle cx="291.45" cy="60.17" r="1.08" fill="#a82238"/>
<circle cx="292.95" cy="60.62" r="1.08" fill="#a82238"/>
<circle cx="294.45" cy="61.07" r="1.08" fill="#a82238"/>
<circle cx="295.95" cy="61.52" r="1.08" fill="#a82238"/>
<circle cx="297.45" cy="61.52" r="1.08" fill="#a82238"/>
<circle cx="298.95" cy="61.07" r="1.08" fill="#a82238"/>
<circle cx="300.45" cy="60.62" r="1.08" fill="#a82238"/>
<circle cx="301.95" cy="60.17" r="1.08" fill="#a82238"/>
<circle cx="291.45" cy="62.62" r="1.08" fill="#a82238"/>
<circle cx="292.95" cy="63.07" r="1.08" fill="#a82238"/>
<circle cx="294.45" cy="63.52" r="1.08" fill="#a82238"/>
<circle cx="295.95" cy="63.97" r="1.08" fill="#a82238"/>
<circle cx="297.45" cy="63.97" r="1.08" fill="#a82238"/>
<circle cx="298.95" cy="63.52" r="1.08" fill="#a82238"/>
<circle cx="300.45" cy="63.07" r="1.08" fill="#a82238"/>
<circle cx="301.95" cy="62.62" r="1.08" fill="#a82238"/>
<circle cx="291.45" cy="65.07" r="1.08" fill="#a82238"/>
<circle cx="292.95" cy="65.52" r="1.08" fill="#a82238"/>
<circle cx="294.45" cy="65.97" r="1.08" fill="#a82238"/>
<circle cx="295.95" cy="66.42" r="1.08" fill="#a82238"/>
<circle cx="297.45" cy="66.42" r="1.08" fill="#a82238"/>
<circle cx="298.95" cy="65.97" r="1.08" fill="#a82238"/>
<circle cx="300.45" cy="65.52" r="1.08" fill="#a82238"/>
<circle cx="301.95" cy="65.07" r="1.08" fill="#a82238"/>
<circle cx="291.45" cy="67.52" r="1.08" fill="#a82238"/>
<circle cx="292.95" cy="67.97" r="1.08" fill="#a82238"/>
<circle cx="294.45" cy="68.42" r="1.08" fill="#a82238"/>
<circle cx="295.95" cy="68.87" r="1.08" fill="#a82238"/>
<circle cx="297.45" cy="68.87" r="1.08" fill="#a82238"/>
<circle cx="298.95" cy="68.42" r="1.08" fill="#a82238"/>
<circle cx="300.45" cy="67.97" r="1.08" fill="#a82238"/>
<circle cx="301.95" cy="67.52" r="1.08" fill="#a82238"/>
<circle cx="291.45" cy="69.97" r="1.08" fill="#a82238"/>
<circle cx="292.95" cy="70.42" r="1.08" fill="#a82238"/>
<circle cx="294.45" cy="70.87" r="1.08" fill="#a82238"/>
<circle cx="295.95" cy="71.32" r="1.08" fill="#a82238"/>
<circle cx="297.45" cy="71.32" r="1.08" fill="#a82238"/>
<circle cx="298.95" cy="70.87" r="1.08" fill="#a82238"/>
<circle cx="300.45" cy="70.42" r="1.08" fill="#a82238"/>
<circle cx="301.95" cy="69.97" r="1.08" fill="#a82238"/>
<circle cx="291.45" cy="72.42" r="1.08" fill="#a82238"/>
<circle cx="292.95" cy="72.87" r="1.08" fill="#a82238"/>
<circle cx="294.45" cy="73.32" r="1.08" fill="#a82238"/>
<circle cx="295.95" cy="73.77" r="1.08" fill="#a82238"/>
<circle cx="297.45" cy="73.77" r="1.08" fill="#a82238"/>
<circle cx="298.95" cy="73.32" r="1.08" fill="#a82238"/>
<circle cx="300.45" cy="72.87" r="1.08" fill="#a82238"/>
<circle cx="301.95" cy="72.42" r="1.08" fill="#a82238"/>
<circle cx="291.45" cy="74.87" r="1.08" fill="#a82238"/>
<circle cx="292.95" cy="75.32" r="1.08" fill="#a82238"/>
<circle cx="294.45" cy="75.77" r="1.08" fill="#a82238"/>
<circle cx="295.95" cy="76.22" r="1.08" fill="#a82238"/>
<circle cx="297.45" cy="76.22" r="1.08" fill="#a82238"/>
<circle cx="298.95" cy="75.77" r="1.08" fill="#a82238"/>
<circle cx="300.45" cy="75.32" r="1.08" fill="#a82238"/>
<circle cx="301.95" cy="74.87" r="1.08" fill="#a82238"/>
<circle cx="292.10" cy="78.01" r="1.0" fill="#a82238"/>
<circle cx="294.40" cy="78.70" r="1.0" fill="#a82238"/>
<circle cx="296.70" cy="79.39" r="1.0" fill="#a82238"/>
<circle cx="299.00" cy="78.70" r="1.0" fill="#a82238"/>
<circle cx="301.30" cy="78.01" r="1.0" fill="#a82238"/>
<circle cx="294.00" cy="81.20" r="1.0" fill="#a82238"/>
<circle cx="296.70" cy="81.60" r="1.0" fill="#a82238"/>
<circle cx="299.40" cy="81.20" r="1.0" fill="#a82238"/>
<circle cx="296.70" cy="84.00" r="1.0" fill="#a82238"/>
<circle cx="296.70" cy="88.10" r="1.0" fill="#a82238"/>
<circle cx="312.90" cy="54.70" r="1.0" fill="#254a87"/>
<circle cx="315.30" cy="54.50" r="1.0" fill="#254a87"/>
<circle cx="317.70" cy="55.50" r="1.0" fill="#254a87"/>
<circle cx="310.50" cy="56.50" r="1.0" fill="#254a87"/>
<circle cx="313.50" cy="57.00" r="1.0" fill="#254a87"/>
<circle cx="316.50" cy="57.00" r="1.0" fill="#254a87"/>
<circle cx="319.00" cy="57.50" r="1.0" fill="#254a87"/>
<circle cx="308.50" cy="58.50" r="1.0" fill="#254a87"/>
<circle cx="311.00" cy="58.80" r="1.0" fill="#254a87"/>
<circle cx="314.00" cy="59.50" r="1.0" fill="#254a87"/>
<circle cx="317.00" cy="59.00" r="1.0" fill="#254a87"/>
<circle cx="320.00" cy="59.20" r="1.0" fill="#254a87"/>
<circle cx="322.00" cy="59.50" r="1.0" fill="#254a87"/>
<circle cx="310.50" cy="62.50" r="1.0" fill="#254a87"/>
<circle cx="313.50" cy="62.30" r="1.0" fill="#254a87"/>
<circle cx="316.00" cy="62.50" r="1.0" fill="#254a87"/>
<circle cx="318.50" cy="62.50" r="1.0" fill="#254a87"/>
<circle cx="309.00" cy="64.50" r="1.0" fill="#254a87"/>
<circle cx="312.00" cy="64.80" r="1.0" fill="#254a87"/>
<circle cx="315.50" cy="65.00" r="1.0" fill="#254a87"/>
<circle cx="318.50" cy="64.50" r="1.0" fill="#254a87"/>
<circle cx="310.50" cy="66.50" r="1.0" fill="#254a87"/>
<circle cx="313.50" cy="67.00" r="1.0" fill="#254a87"/>
<circle cx="316.50" cy="66.50" r="1.0" fill="#254a87"/>
<circle cx="312.30" cy="68.50" r="1.0" fill="#254a87"/>
<circle cx="315.50" cy="68.80" r="1.0" fill="#254a87"/>
<circle cx="315.50" cy="70.50" r="1.0" fill="#254a87"/>
<circle cx="314.30" cy="75.30" r="1.0" fill="#254a87"/>
<circle cx="317.00" cy="75.30" r="1.0" fill="#254a87"/>
<circle cx="334.50" cy="59.80" r="1.0" fill="#4f9e30"/>
<circle cx="337.50" cy="61.90" r="1.0" fill="#4f9e30"/>
<circle cx="332.20" cy="63.60" r="1.0" fill="#4f9e30"/>
<circle cx="336.00" cy="63.60" r="1.0" fill="#4f9e30"/>
<circle cx="334.50" cy="70.70" r="1.0" fill="#4f9e30"/>
<line x1="289.00" y1="65.50" x2="304.80" y2="65.50" stroke="#2e2e2e" stroke-width="1.1"/>
<line x1="307.80" y1="60.50" x2="324.00" y2="60.50" stroke="#2e2e2e" stroke-width="1.1"/>
<line x1="327.00" y1="63.50" x2="342.80" y2="63.50" stroke="#2e2e2e" stroke-width="1.1"/>
<circle cx="457.95" cy="58.08" r="1.08" fill="#a82238"/>
<circle cx="459.45" cy="58.41" r="1.08" fill="#a82238"/>
<circle cx="460.95" cy="58.74" r="1.08" fill="#a82238"/>
<circle cx="462.45" cy="59.07" r="1.08" fill="#a82238"/>
<circle cx="463.95" cy="59.07" r="1.08" fill="#a82238"/>
<circle cx="465.45" cy="58.74" r="1.08" fill="#a82238"/>
<circle cx="466.95" cy="58.41" r="1.08" fill="#a82238"/>
<circle cx="468.45" cy="58.08" r="1.08" fill="#a82238"/>
<circle cx="457.95" cy="60.38" r="1.08" fill="#a82238"/>
<circle cx="459.45" cy="60.71" r="1.08" fill="#a82238"/>
<circle cx="460.95" cy="61.04" r="1.08" fill="#a82238"/>
<circle cx="462.45" cy="61.37" r="1.08" fill="#a82238"/>
<circle cx="463.95" cy="61.37" r="1.08" fill="#a82238"/>
<circle cx="465.45" cy="61.04" r="1.08" fill="#a82238"/>
<circle cx="466.95" cy="60.71" r="1.08" fill="#a82238"/>
<circle cx="468.45" cy="60.38" r="1.08" fill="#a82238"/>
<circle cx="457.95" cy="62.68" r="1.08" fill="#a82238"/>
<circle cx="459.45" cy="63.01" r="1.08" fill="#a82238"/>
<circle cx="460.95" cy="63.34" r="1.08" fill="#a82238"/>
<circle cx="462.45" cy="63.67" r="1.08" fill="#a82238"/>
<circle cx="463.95" cy="63.67" r="1.08" fill="#a82238"/>
<circle cx="465.45" cy="63.34" r="1.08" fill="#a82238"/>
<circle cx="466.95" cy="63.01" r="1.08" fill="#a82238"/>
<circle cx="468.45" cy="62.68" r="1.08" fill="#a82238"/>
<circle cx="457.95" cy="64.99" r="1.08" fill="#a82238"/>
<circle cx="459.45" cy="65.32" r="1.08" fill="#a82238"/>
<circle cx="460.95" cy="65.65" r="1.08" fill="#a82238"/>
<circle cx="462.45" cy="65.98" r="1.08" fill="#a82238"/>
<circle cx="463.95" cy="65.98" r="1.08" fill="#a82238"/>
<circle cx="465.45" cy="65.65" r="1.08" fill="#a82238"/>
<circle cx="466.95" cy="65.32" r="1.08" fill="#a82238"/>
<circle cx="468.45" cy="64.99" r="1.08" fill="#a82238"/>
<circle cx="457.95" cy="67.29" r="1.08" fill="#a82238"/>
<circle cx="459.45" cy="67.62" r="1.08" fill="#a82238"/>
<circle cx="460.95" cy="67.95" r="1.08" fill="#a82238"/>
<circle cx="462.45" cy="68.28" r="1.08" fill="#a82238"/>
<circle cx="463.95" cy="68.28" r="1.08" fill="#a82238"/>
<circle cx="465.45" cy="67.95" r="1.08" fill="#a82238"/>
<circle cx="466.95" cy="67.62" r="1.08" fill="#a82238"/>
<circle cx="468.45" cy="67.29" r="1.08" fill="#a82238"/>
<circle cx="457.95" cy="69.49" r="1.08" fill="#a82238"/>
<circle cx="459.45" cy="69.82" r="1.08" fill="#a82238"/>
<circle cx="460.95" cy="70.15" r="1.08" fill="#a82238"/>
<circle cx="462.45" cy="70.48" r="1.08" fill="#a82238"/>
<circle cx="463.95" cy="70.48" r="1.08" fill="#a82238"/>
<circle cx="465.45" cy="70.15" r="1.08" fill="#a82238"/>
<circle cx="466.95" cy="69.82" r="1.08" fill="#a82238"/>
<circle cx="468.45" cy="69.49" r="1.08" fill="#a82238"/>
<circle cx="457.95" cy="71.46" r="1.08" fill="#a82238"/>
<circle cx="459.45" cy="71.79" r="1.08" fill="#a82238"/>
<circle cx="460.95" cy="72.12" r="1.08" fill="#a82238"/>
<circle cx="462.45" cy="72.45" r="1.08" fill="#a82238"/>
<circle cx="463.95" cy="72.45" r="1.08" fill="#a82238"/>
<circle cx="465.45" cy="72.12" r="1.08" fill="#a82238"/>
<circle cx="466.95" cy="71.79" r="1.08" fill="#a82238"/>
<circle cx="468.45" cy="71.46" r="1.08" fill="#a82238"/>
<circle cx="459.45" cy="73.41" r="1.08" fill="#a82238"/>
<circle cx="460.95" cy="73.74" r="1.08" fill="#a82238"/>
<circle cx="462.45" cy="74.07" r="1.08" fill="#a82238"/>
<circle cx="463.95" cy="74.07" r="1.08" fill="#a82238"/>
<circle cx="465.45" cy="73.74" r="1.08" fill="#a82238"/>
<circle cx="466.95" cy="73.41" r="1.08" fill="#a82238"/>
<circle cx="457.80" cy="52.90" r="0.95" fill="#a82238"/>
<circle cx="459.60" cy="52.90" r="0.95" fill="#a82238"/>
<circle cx="461.40" cy="52.90" r="0.95" fill="#a82238"/>
<circle cx="463.20" cy="52.90" r="0.95" fill="#a82238"/>
<circle cx="465.00" cy="52.90" r="0.95" fill="#a82238"/>
<circle cx="466.80" cy="52.90" r="0.95" fill="#a82238"/>
<circle cx="468.60" cy="52.90" r="0.95" fill="#a82238"/>
<circle cx="461.50" cy="50.90" r="1.0" fill="#a82238"/>
<circle cx="464.20" cy="50.90" r="1.0" fill="#a82238"/>
<circle cx="461.20" cy="56.80" r="1.0" fill="#a82238"/>
<circle cx="463.40" cy="56.60" r="1.0" fill="#a82238"/>
<circle cx="465.60" cy="56.80" r="1.0" fill="#a82238"/>
<circle cx="463.20" cy="75.40" r="1.0" fill="#a82238"/>
<circle cx="482.00" cy="51.80" r="1.0" fill="#254a87"/>
<circle cx="480.50" cy="54.00" r="1.0" fill="#254a87"/>
<circle cx="483.00" cy="55.60" r="1.0" fill="#254a87"/>
<circle cx="479.50" cy="61.70" r="1.0" fill="#254a87"/>
<circle cx="482.00" cy="62.00" r="1.0" fill="#254a87"/>
<circle cx="485.00" cy="62.00" r="1.0" fill="#254a87"/>
<circle cx="487.00" cy="63.50" r="1.0" fill="#254a87"/>
<circle cx="477.00" cy="63.50" r="1.0" fill="#254a87"/>
<circle cx="479.00" cy="65.00" r="1.0" fill="#254a87"/>
<circle cx="481.50" cy="65.00" r="1.0" fill="#254a87"/>
<circle cx="485.00" cy="66.00" r="1.0" fill="#254a87"/>
<circle cx="478.50" cy="67.00" r="1.0" fill="#254a87"/>
<circle cx="488.00" cy="66.50" r="1.0" fill="#254a87"/>
<circle cx="477.00" cy="68.50" r="1.0" fill="#254a87"/>
<circle cx="479.50" cy="68.80" r="1.0" fill="#254a87"/>
<circle cx="482.00" cy="69.00" r="1.0" fill="#254a87"/>
<circle cx="484.50" cy="68.80" r="1.0" fill="#254a87"/>
<circle cx="487.00" cy="68.50" r="1.0" fill="#254a87"/>
<circle cx="478.00" cy="70.50" r="1.0" fill="#254a87"/>
<circle cx="480.50" cy="70.80" r="1.0" fill="#254a87"/>
<circle cx="483.00" cy="71.00" r="1.0" fill="#254a87"/>
<circle cx="485.50" cy="70.80" r="1.0" fill="#254a87"/>
<circle cx="488.00" cy="70.30" r="1.0" fill="#254a87"/>
<circle cx="480.00" cy="72.80" r="1.0" fill="#254a87"/>
<circle cx="482.50" cy="73.20" r="1.0" fill="#254a87"/>
<circle cx="485.00" cy="72.80" r="1.0" fill="#254a87"/>
<circle cx="499.50" cy="56.60" r="1.0" fill="#4f9e30"/>
<circle cx="502.00" cy="56.20" r="1.0" fill="#4f9e30"/>
<circle cx="503.80" cy="54.80" r="1.0" fill="#4f9e30"/>
<circle cx="499.50" cy="73.80" r="1.0" fill="#4f9e30"/>
<circle cx="502.30" cy="72.20" r="1.0" fill="#4f9e30"/>
<line x1="455.20" y1="71.50" x2="471.00" y2="71.50" stroke="#2e2e2e" stroke-width="1.1"/>
<line x1="473.90" y1="68.50" x2="490.10" y2="68.50" stroke="#2e2e2e" stroke-width="1.1"/>
<line x1="493.00" y1="56.50" x2="509.10" y2="56.50" stroke="#2e2e2e" stroke-width="1.1"/>
<circle cx="126.60" cy="167.80" r="1.0" fill="#a82238"/>
<circle cx="129.20" cy="166.60" r="1.0" fill="#a82238"/>
<circle cx="127.80" cy="173.70" r="1.0" fill="#a82238"/>
<circle cx="129.40" cy="174.80" r="1.0" fill="#a82238"/>
<circle cx="126.60" cy="176.60" r="1.0" fill="#a82238"/>
<circle cx="128.30" cy="179.60" r="1.0" fill="#a82238"/>
<circle cx="124.40" cy="180.50" r="1.0" fill="#a82238"/>
<circle cx="126.50" cy="182.50" r="1.0" fill="#a82238"/>
<circle cx="129.50" cy="182.00" r="1.0" fill="#a82238"/>
<circle cx="131.50" cy="181.50" r="1.0" fill="#a82238"/>
<circle cx="127.00" cy="184.50" r="1.0" fill="#a82238"/>
<circle cx="130.50" cy="184.00" r="1.0" fill="#a82238"/>
<circle cx="129.20" cy="185.90" r="1.0" fill="#a82238"/>
<circle cx="127.80" cy="189.40" r="1.0" fill="#a82238"/>
<circle cx="138.50" cy="168.30" r="1.0" fill="#254a87"/>
<circle cx="145.90" cy="168.10" r="1.0" fill="#254a87"/>
<circle cx="140.50" cy="170.00" r="1.0" fill="#254a87"/>
<circle cx="142.50" cy="170.50" r="1.0" fill="#254a87"/>
<circle cx="144.00" cy="169.50" r="1.0" fill="#254a87"/>
<circle cx="141.00" cy="172.30" r="1.0" fill="#254a87"/>
<circle cx="144.50" cy="173.00" r="1.0" fill="#254a87"/>
<circle cx="139.50" cy="174.00" r="1.0" fill="#254a87"/>
<circle cx="142.00" cy="173.80" r="1.0" fill="#254a87"/>
<circle cx="143.50" cy="175.20" r="1.0" fill="#254a87"/>
<circle cx="142.20" cy="176.20" r="1.0" fill="#254a87"/>
<circle cx="140.80" cy="182.00" r="1.0" fill="#254a87"/>
<circle cx="143.50" cy="179.90" r="1.0" fill="#254a87"/>
<circle cx="152.40" cy="169.00" r="1.0" fill="#4f9e30"/>
<circle cx="154.90" cy="169.40" r="1.0" fill="#4f9e30"/>
<circle cx="157.40" cy="169.20" r="1.0" fill="#4f9e30"/>
<circle cx="159.80" cy="168.30" r="1.0" fill="#4f9e30"/>
<circle cx="158.60" cy="171.50" r="1.0" fill="#4f9e30"/>
<circle cx="153.70" cy="172.50" r="1.0" fill="#4f9e30"/>
<circle cx="156.30" cy="173.40" r="1.0" fill="#4f9e30"/>
<circle cx="157.20" cy="174.60" r="1.0" fill="#4f9e30"/>
<circle cx="154.90" cy="176.40" r="1.0" fill="#4f9e30"/>
<circle cx="154.90" cy="179.40" r="1.0" fill="#4f9e30"/>
<circle cx="157.40" cy="181.40" r="1.0" fill="#4f9e30"/>
<circle cx="156.40" cy="209.60" r="1.0" fill="#4f9e30"/>
<circle cx="170.30" cy="166.00" r="1.0" fill="#6f2f72"/>
<circle cx="169.00" cy="174.30" r="1.0" fill="#6f2f72"/>
<circle cx="171.50" cy="174.30" r="1.0" fill="#6f2f72"/>
<line x1="123.20" y1="181.50" x2="132.70" y2="181.50" stroke="#2e2e2e" stroke-width="1.1"/>
<line x1="137.10" y1="172.50" x2="146.80" y2="172.50" stroke="#2e2e2e" stroke-width="1.1"/>
<line x1="151.50" y1="172.50" x2="161.10" y2="172.50" stroke="#2e2e2e" stroke-width="1.1"/>
<line x1="165.70" y1="174.50" x2="175.50" y2="174.50" stroke="#2e2e2e" stroke-width="1.1"/>
<circle cx="291.90" cy="176.10" r="1.0" fill="#a82238"/>
<circle cx="294.20" cy="176.90" r="1.0" fill="#a82238"/>
<circle cx="296.60" cy="176.10" r="1.0" fill="#a82238"/>
<circle cx="291.00" cy="186.10" r="1.0" fill="#a82238"/>
<circle cx="294.60" cy="184.80" r="1.0" fill="#a82238"/>
<circle cx="297.20" cy="186.60" r="1.0" fill="#a82238"/>
<circle cx="293.00" cy="187.00" r="1.0" fill="#a82238"/>
<circle cx="294.60" cy="190.60" r="1.0" fill="#a82238"/>
<circle cx="293.30" cy="195.90" r="1.0" fill="#a82238"/>
<circle cx="291.90" cy="199.30" r="1.0" fill="#a82238"/>
<circle cx="295.50" cy="198.50" r="1.0" fill="#a82238"/>
<circle cx="296.80" cy="199.80" r="1.0" fill="#a82238"/>
<circle cx="294.60" cy="202.00" r="1.0" fill="#a82238"/>
<circle cx="308.70" cy="167.90" r="1.0" fill="#254a87"/>
<circle cx="306.00" cy="173.90" r="1.0" fill="#254a87"/>
<circle cx="309.70" cy="173.50" r="1.0" fill="#254a87"/>
<circle cx="311.10" cy="177.20" r="1.0" fill="#254a87"/>
<circle cx="307.10" cy="179.80" r="1.0" fill="#254a87"/>
<circle cx="308.70" cy="178.70" r="1.0" fill="#254a87"/>
<circle cx="310.00" cy="179.50" r="1.0" fill="#254a87"/>
<circle cx="307.10" cy="183.50" r="1.0" fill="#254a87"/>
<circle cx="309.70" cy="184.50" r="1.0" fill="#254a87"/>
<circle cx="308.70" cy="195.60" r="1.0" fill="#254a87"/>
<circle cx="322.60" cy="165.50" r="1.0" fill="#4f9e30"/>
<circle cx="324.30" cy="167.70" r="1.0" fill="#4f9e30"/>
<circle cx="321.70" cy="169.20" r="1.0" fill="#4f9e30"/>
<circle cx="321.70" cy="176.50" r="1.0" fill="#4f9e30"/>
<circle cx="324.30" cy="177.80" r="1.0" fill="#4f9e30"/>
<circle cx="319.30" cy="182.20" r="1.0" fill="#4f9e30"/>
<circle cx="321.70" cy="183.50" r="1.0" fill="#4f9e30"/>
<circle cx="323.90" cy="184.00" r="1.0" fill="#4f9e30"/>
<circle cx="326.50" cy="182.40" r="1.0" fill="#4f9e30"/>
<circle cx="323.00" cy="206.40" r="1.0" fill="#4f9e30"/>
<circle cx="337.10" cy="178.20" r="1.0" fill="#6f2f72"/>
<circle cx="337.10" cy="185.10" r="1.0" fill="#6f2f72"/>
<circle cx="337.10" cy="191.00" r="1.0" fill="#6f2f72"/>
<line x1="289.70" y1="187.50" x2="298.90" y2="187.50" stroke="#2e2e2e" stroke-width="1.1"/>
<line x1="303.80" y1="178.50" x2="313.40" y2="178.50" stroke="#2e2e2e" stroke-width="1.1"/>
<line x1="318.00" y1="180.50" x2="327.90" y2="180.50" stroke="#2e2e2e" stroke-width="1.1"/>
<line x1="332.20" y1="185.50" x2="342.00" y2="185.50" stroke="#2e2e2e" stroke-width="1.1"/>
<circle cx="460.70" cy="162.70" r="1.0" fill="#a82238"/>
<circle cx="460.70" cy="165.80" r="1.0" fill="#a82238"/>
<circle cx="460.70" cy="170.90" r="1.0" fill="#a82238"/>
<circle cx="460.70" cy="174.10" r="1.0" fill="#a82238"/>
<circle cx="460.70" cy="179.80" r="1.0" fill="#a82238"/>
<circle cx="459.10" cy="184.50" r="1.0" fill="#a82238"/>
<circle cx="462.30" cy="184.80" r="1.0" fill="#a82238"/>
<circle cx="459.10" cy="191.20" r="1.0" fill="#a82238"/>
<circle cx="462.30" cy="190.50" r="1.0" fill="#a82238"/>
<circle cx="460.70" cy="197.50" r="1.0" fill="#a82238"/>
<circle cx="459.10" cy="205.10" r="1.0" fill="#a82238"/>
<circle cx="462.30" cy="203.00" r="1.0" fill="#a82238"/>
<circle cx="473.80" cy="158.70" r="1.0" fill="#254a87"/>
<circle cx="476.10" cy="157.10" r="1.0" fill="#254a87"/>
<circle cx="474.80" cy="163.50" r="1.0" fill="#254a87"/>
<circle cx="474.80" cy="166.60" r="1.0" fill="#254a87"/>
<circle cx="474.80" cy="170.30" r="1.0" fill="#254a87"/>
<circle cx="474.80" cy="173.00" r="1.0" fill="#254a87"/>
<circle cx="473.80" cy="176.10" r="1.0" fill="#254a87"/>
<circle cx="476.10" cy="178.80" r="1.0" fill="#254a87"/>
<circle cx="473.80" cy="182.50" r="1.0" fill="#254a87"/>
<circle cx="476.10" cy="181.70" r="1.0" fill="#254a87"/>
<circle cx="474.80" cy="188.00" r="1.0" fill="#254a87"/>
<circle cx="474.80" cy="192.70" r="1.0" fill="#254a87"/>
<circle cx="487.50" cy="158.20" r="1.0" fill="#4f9e30"/>
<circle cx="490.20" cy="156.60" r="1.0" fill="#4f9e30"/>
<circle cx="487.50" cy="165.00" r="1.0" fill="#4f9e30"/>
<circle cx="490.20" cy="165.00" r="1.0" fill="#4f9e30"/>
<circle cx="486.70" cy="169.80" r="1.0" fill="#4f9e30"/>
<circle cx="489.00" cy="171.40" r="1.0" fill="#4f9e30"/>
<circle cx="488.60" cy="178.20" r="1.0" fill="#4f9e30"/>
<circle cx="488.60" cy="193.10" r="1.0" fill="#4f9e30"/>
<circle cx="487.50" cy="198.80" r="1.0" fill="#4f9e30"/>
<circle cx="490.20" cy="200.30" r="1.0" fill="#4f9e30"/>
<circle cx="488.60" cy="205.70" r="1.0" fill="#4f9e30"/>
<circle cx="503.40" cy="160.80" r="1.0" fill="#6f2f72"/>
<circle cx="503.40" cy="166.30" r="1.0" fill="#6f2f72"/>
<circle cx="503.40" cy="179.80" r="1.0" fill="#6f2f72"/>
<line x1="456.00" y1="187.50" x2="465.90" y2="187.50" stroke="#2e2e2e" stroke-width="1.1"/>
<line x1="470.20" y1="174.50" x2="480.20" y2="174.50" stroke="#2e2e2e" stroke-width="1.1"/>
<line x1="484.40" y1="171.50" x2="493.90" y2="171.50" stroke="#2e2e2e" stroke-width="1.1"/>
<line x1="498.60" y1="166.50" x2="508.10" y2="166.50" stroke="#2e2e2e" stroke-width="1.1"/>
<circle cx="127.40" cy="280.00" r="1.0" fill="#a82238"/>
<circle cx="129.80" cy="278.80" r="1.0" fill="#a82238"/>
<circle cx="128.60" cy="285.70" r="1.0" fill="#a82238"/>
<circle cx="129.80" cy="287.10" r="1.0" fill="#a82238"/>
<circle cx="127.50" cy="288.30" r="1.0" fill="#a82238"/>
<circle cx="128.50" cy="291.70" r="1.0" fill="#a82238"/>
<circle cx="125.70" cy="292.90" r="1.0" fill="#a82238"/>
<circle cx="127.50" cy="294.50" r="1.0" fill="#a82238"/>
<circle cx="130.30" cy="293.80" r="1.0" fill="#a82238"/>
<circle cx="127.00" cy="296.20" r="1.0" fill="#a82238"/>
<circle cx="129.50" cy="295.70" r="1.0" fill="#a82238"/>
<circle cx="129.80" cy="297.70" r="1.0" fill="#a82238"/>
<circle cx="128.60" cy="301.20" r="1.0" fill="#a82238"/>
<circle cx="137.20" cy="280.00" r="1.0" fill="#254a87"/>
<circle cx="142.80" cy="280.00" r="1.0" fill="#254a87"/>
<circle cx="139.00" cy="281.80" r="1.0" fill="#254a87"/>
<circle cx="141.00" cy="282.20" r="1.0" fill="#254a87"/>
<circle cx="138.50" cy="284.30" r="1.0" fill="#254a87"/>
<circle cx="142.50" cy="284.50" r="1.0" fill="#254a87"/>
<circle cx="139.50" cy="286.00" r="1.0" fill="#254a87"/>
<circle cx="137.70" cy="286.20" r="1.0" fill="#254a87"/>
<circle cx="142.30" cy="286.20" r="1.0" fill="#254a87"/>
<circle cx="140.00" cy="287.70" r="1.0" fill="#254a87"/>
<circle cx="138.60" cy="294.00" r="1.0" fill="#254a87"/>
<circle cx="141.20" cy="292.00" r="1.0" fill="#254a87"/>
<circle cx="148.80" cy="281.50" r="1.0" fill="#1e6b4a"/>
<circle cx="151.40" cy="280.30" r="1.0" fill="#1e6b4a"/>
<circle cx="153.90" cy="281.50" r="1.0" fill="#1e6b4a"/>
<circle cx="150.20" cy="286.80" r="1.0" fill="#1e6b4a"/>
<circle cx="152.50" cy="285.70" r="1.0" fill="#1e6b4a"/>
<circle cx="151.50" cy="283.00" r="1.0" fill="#1e6b4a"/>
<circle cx="162.40" cy="281.30" r="1.0" fill="#ec8a1c"/>
<circle cx="162.40" cy="284.50" r="1.0" fill="#ec8a1c"/>
<circle cx="162.40" cy="288.60" r="1.0" fill="#ec8a1c"/>
<circle cx="161.00" cy="291.40" r="1.0" fill="#ec8a1c"/>
<circle cx="163.90" cy="293.20" r="1.0" fill="#ec8a1c"/>
<circle cx="162.40" cy="321.90" r="1.0" fill="#ec8a1c"/>
<circle cx="173.70" cy="278.00" r="1.0" fill="#6f2f72"/>
<circle cx="172.50" cy="286.20" r="1.0" fill="#6f2f72"/>
<circle cx="175.00" cy="286.20" r="1.0" fill="#6f2f72"/>
<line x1="125.20" y1="293.50" x2="132.60" y2="293.50" stroke="#2e2e2e" stroke-width="1.1"/>
<line x1="136.30" y1="284.50" x2="144.00" y2="284.50" stroke="#2e2e2e" stroke-width="1.1"/>
<line x1="147.10" y1="282.50" x2="155.10" y2="282.50" stroke="#2e2e2e" stroke-width="1.1"/>
<line x1="159.00" y1="289.50" x2="166.50" y2="289.50" stroke="#2e2e2e" stroke-width="1.1"/>
<line x1="170.10" y1="286.50" x2="177.80" y2="286.50" stroke="#2e2e2e" stroke-width="1.1"/>
<circle cx="292.60" cy="288.00" r="1.0" fill="#a82238"/>
<circle cx="295.00" cy="288.40" r="1.0" fill="#a82238"/>
<circle cx="297.50" cy="288.00" r="1.0" fill="#a82238"/>
<circle cx="295.00" cy="296.90" r="1.0" fill="#a82238"/>
<circle cx="292.60" cy="298.10" r="1.0" fill="#a82238"/>
<circle cx="296.30" cy="298.30" r="1.0" fill="#a82238"/>
<circle cx="298.00" cy="298.50" r="1.0" fill="#a82238"/>
<circle cx="295.00" cy="302.30" r="1.0" fill="#a82238"/>
<circle cx="293.80" cy="307.80" r="1.0" fill="#a82238"/>
<circle cx="292.20" cy="311.40" r="1.0" fill="#a82238"/>
<circle cx="296.30" cy="310.20" r="1.0" fill="#a82238"/>
<circle cx="297.50" cy="311.80" r="1.0" fill="#a82238"/>
<circle cx="295.00" cy="313.50" r="1.0" fill="#a82238"/>
<circle cx="306.20" cy="279.90" r="1.0" fill="#254a87"/>
<circle cx="303.80" cy="286.00" r="1.0" fill="#254a87"/>
<circle cx="307.40" cy="285.60" r="1.0" fill="#254a87"/>
<circle cx="305.00" cy="287.80" r="1.0" fill="#254a87"/>
<circle cx="308.00" cy="289.00" r="1.0" fill="#254a87"/>
<circle cx="306.00" cy="290.50" r="1.0" fill="#254a87"/>
<circle cx="305.00" cy="291.70" r="1.0" fill="#254a87"/>
<circle cx="305.00" cy="295.10" r="1.0" fill="#254a87"/>
<circle cx="307.40" cy="296.50" r="1.0" fill="#254a87"/>
<circle cx="306.20" cy="307.80" r="1.0" fill="#254a87"/>
<circle cx="317.40" cy="277.50" r="1.0" fill="#1e6b4a"/>
<circle cx="317.70" cy="281.10" r="1.0" fill="#1e6b4a"/>
<circle cx="317.40" cy="290.00" r="1.0" fill="#1e6b4a"/>
<circle cx="316.50" cy="292.00" r="1.0" fill="#1e6b4a"/>
<circle cx="318.30" cy="291.70" r="1.0" fill="#1e6b4a"/>
<circle cx="316.20" cy="294.80" r="1.0" fill="#1e6b4a"/>
<circle cx="319.30" cy="294.10" r="1.0" fill="#1e6b4a"/>
<circle cx="329.00" cy="279.70" r="1.0" fill="#ec8a1c"/>
<circle cx="329.00" cy="288.50" r="1.0" fill="#ec8a1c"/>
<circle cx="329.00" cy="292.40" r="1.0" fill="#ec8a1c"/>
<circle cx="327.70" cy="294.40" r="1.0" fill="#ec8a1c"/>
<circle cx="330.30" cy="295.70" r="1.0" fill="#ec8a1c"/>
<circle cx="329.00" cy="318.40" r="1.0" fill="#ec8a1c"/>
<circle cx="340.10" cy="289.80" r="1.0" fill="#6f2f72"/>
<circle cx="340.10" cy="297.10" r="1.0" fill="#6f2f72"/>
<circle cx="340.10" cy="303.00" r="1.0" fill="#6f2f72"/>
<line x1="291.40" y1="298.50" x2="299.20" y2="298.50" stroke="#2e2e2e" stroke-width="1.1"/>
<line x1="302.60" y1="290.50" x2="310.50" y2="290.50" stroke="#2e2e2e" stroke-width="1.1"/>
<line x1="313.70" y1="291.50" x2="321.40" y2="291.50" stroke="#2e2e2e" stroke-width="1.1"/>
<line x1="325.00" y1="293.50" x2="332.90" y2="293.50" stroke="#2e2e2e" stroke-width="1.1"/>
<line x1="336.10" y1="297.50" x2="344.00" y2="297.50" stroke="#2e2e2e" stroke-width="1.1"/>
<circle cx="461.10" cy="274.70" r="1.0" fill="#a82238"/>
<circle cx="461.10" cy="277.80" r="1.0" fill="#a82238"/>
<circle cx="461.10" cy="282.90" r="1.0" fill="#a82238"/>
<circle cx="461.10" cy="286.10" r="1.0" fill="#a82238"/>
<circle cx="461.10" cy="291.80" r="1.0" fill="#a82238"/>
<circle cx="460.00" cy="296.50" r="1.0" fill="#a82238"/>
<circle cx="462.70" cy="296.50" r="1.0" fill="#a82238"/>
<circle cx="460.00" cy="303.20" r="1.0" fill="#a82238"/>
<circle cx="462.70" cy="302.50" r="1.0" fill="#a82238"/>
<circle cx="461.10" cy="309.50" r="1.0" fill="#a82238"/>
<circle cx="460.00" cy="317.10" r="1.0" fill="#a82238"/>
<circle cx="462.70" cy="315.00" r="1.0" fill="#a82238"/>
<circle cx="471.40" cy="270.70" r="1.0" fill="#254a87"/>
<circle cx="473.80" cy="269.10" r="1.0" fill="#254a87"/>
<circle cx="472.70" cy="275.50" r="1.0" fill="#254a87"/>
<circle cx="472.70" cy="279.10" r="1.0" fill="#254a87"/>
<circle cx="472.70" cy="282.60" r="1.0" fill="#254a87"/>
<circle cx="472.70" cy="285.40" r="1.0" fill="#254a87"/>
<circle cx="471.70" cy="288.10" r="1.0" fill="#254a87"/>
<circle cx="473.80" cy="290.80" r="1.0" fill="#254a87"/>
<circle cx="471.70" cy="294.50" r="1.0" fill="#254a87"/>
<circle cx="473.80" cy="293.70" r="1.0" fill="#254a87"/>
<circle cx="472.70" cy="300.00" r="1.0" fill="#254a87"/>
<circle cx="472.70" cy="305.10" r="1.0" fill="#254a87"/>
<circle cx="484.00" cy="270.20" r="1.0" fill="#1e6b4a"/>
<circle cx="483.10" cy="277.00" r="1.0" fill="#1e6b4a"/>
<circle cx="485.10" cy="277.00" r="1.0" fill="#1e6b4a"/>
<circle cx="484.00" cy="282.90" r="1.0" fill="#1e6b4a"/>
<circle cx="484.00" cy="311.10" r="1.0" fill="#1e6b4a"/>
<circle cx="484.00" cy="317.70" r="1.0" fill="#1e6b4a"/>
<circle cx="495.40" cy="268.60" r="1.0" fill="#ec8a1c"/>
<circle cx="493.80" cy="281.80" r="1.0" fill="#ec8a1c"/>
<circle cx="496.70" cy="283.40" r="1.0" fill="#ec8a1c"/>
<circle cx="495.40" cy="290.20" r="1.0" fill="#ec8a1c"/>
<circle cx="495.40" cy="305.10" r="1.0" fill="#ec8a1c"/>
<circle cx="495.40" cy="312.30" r="1.0" fill="#ec8a1c"/>
<circle cx="506.80" cy="272.80" r="1.0" fill="#6f2f72"/>
<circle cx="506.80" cy="278.30" r="1.0" fill="#6f2f72"/>
<circle cx="506.80" cy="291.80" r="1.0" fill="#6f2f72"/>
<line x1="457.20" y1="299.50" x2="465.40" y2="299.50" stroke="#2e2e2e" stroke-width="1.1"/>
<line x1="469.00" y1="286.50" x2="477.00" y2="286.50" stroke="#2e2e2e" stroke-width="1.1"/>
<line x1="479.90" y1="279.50" x2="488.30" y2="279.50" stroke="#2e2e2e" stroke-width="1.1"/>
<line x1="491.50" y1="286.50" x2="498.90" y2="286.50" stroke="#2e2e2e" stroke-width="1.1"/>
<line x1="503.00" y1="278.50" x2="510.50" y2="278.50" stroke="#2e2e2e" stroke-width="1.1"/>
<rect x="0" y="0" width="519" height="1" fill="#0a0a0a"/>
<rect x="1" y="1" width="517" height="1" fill="#d8d8d8"/>
<rect x="0" y="0" width="1" height="379" fill="#0a0a0a"/>
<rect x="1" y="1" width="1" height="377" fill="#d8d8d8"/>
<rect x="0" y="378" width="519" height="1" fill="#0a0a0a"/>
<rect x="1" y="377" width="517" height="1" fill="#e0e0e0"/>
<rect x="518" y="1" width="1" height="377" fill="#b0b0b0"/>
<rect x="519" y="0" width="1" height="379" fill="#555"/>
</svg>
</body></html>
